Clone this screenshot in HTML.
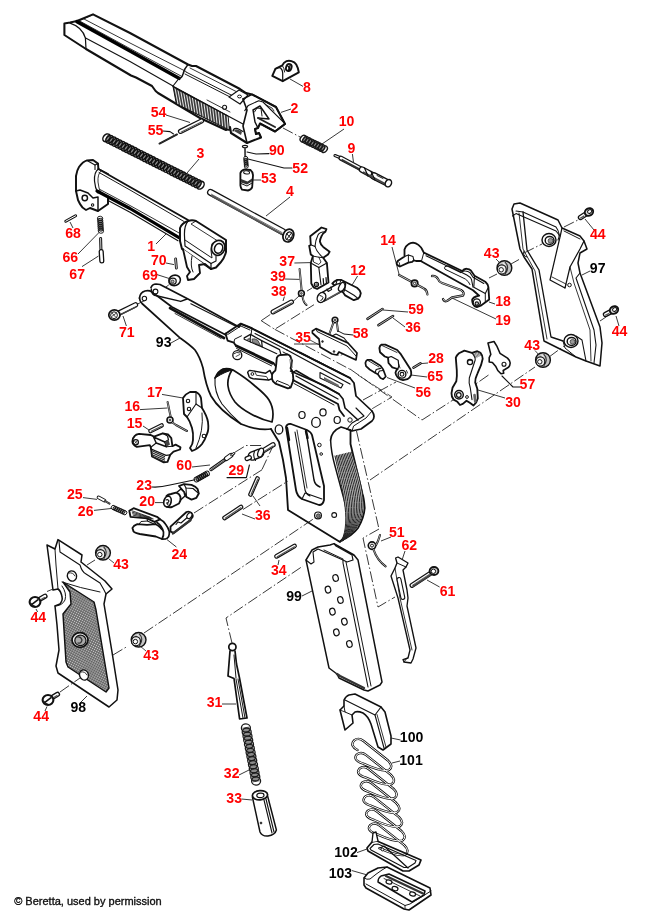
<!DOCTYPE html>
<html><head><meta charset="utf-8"><title>Beretta schematic</title>
<style>
html,body{margin:0;padding:0;background:#fff;}
body{width:650px;height:916px;overflow:hidden;}
svg{display:block;font-family:"Liberation Sans",Arial,sans-serif;}
</style></head><body>
<svg width="650" height="916" viewBox="0 0 650 916">
<rect width="650" height="916" fill="#fff"/>
<path d="M144.0 633.0 L260.0 555.0 L317.0 516.5" fill="none" stroke="#222" stroke-width="0.9" stroke-dasharray="11 2.5 1.5 2.5"/>
<path d="M232.0 643.0 L226.0 618.0 L260.0 595.0 L303.0 566.0" fill="none" stroke="#222" stroke-width="0.9" stroke-dasharray="11 2.5 1.5 2.5"/>
<path d="M194.0 513.0 L262.0 469.8" fill="none" stroke="#222" stroke-width="0.9" stroke-dasharray="11 2.5 1.5 2.5"/>
<path d="M262.0 469.5 L272.5 447.0" fill="none" stroke="#222" stroke-width="0.9" stroke-dasharray="11 2.5 1.5 2.5"/>
<path d="M234.5 452.5 L246.0 445.5 L262.0 445.5" fill="none" stroke="#222" stroke-width="0.9" stroke-dasharray="11 2.5 1.5 2.5"/>
<path d="M243.0 509.5 L288.0 481.0" fill="none" stroke="#222" stroke-width="0.9" stroke-dasharray="11 2.5 1.5 2.5"/>
<path d="M370.0 480.0 L535.0 367.0" fill="none" stroke="#222" stroke-width="0.9" stroke-dasharray="11 2.5 1.5 2.5"/>
<path d="M350.0 369.0 L422.0 420.0 L450.0 402.0 L490.0 374.0" fill="none" stroke="#222" stroke-width="0.9" stroke-dasharray="11 2.5 1.5 2.5"/>
<path d="M363.0 400.0 L396.0 382.0" fill="none" stroke="#222" stroke-width="0.9" stroke-dasharray="11 2.5 1.5 2.5"/>
<path d="M358.0 375.0 L392.0 397.0 L370.0 410.0" fill="none" stroke="#222" stroke-width="0.8" stroke-dasharray="11 2.5 1.5 2.5"/>
<path d="M261.2 320.7 L273.5 312.3" fill="none" stroke="#222" stroke-width="0.9" stroke-dasharray="11 2.5 1.5 2.5"/>
<path d="M293.0 301.5 L299.0 296.0 L312.0 288.0" fill="none" stroke="#222" stroke-width="0.9" stroke-dasharray="11 2.5 1.5 2.5"/>
<path d="M261.2 320.7 L274.7 329.3 L314.0 304.7" fill="none" stroke="#222" stroke-width="0.9" stroke-dasharray="11 2.5 1.5 2.5"/>
<path d="M274.7 329.3 L350.0 369.3" fill="none" stroke="#222" stroke-width="0.9" stroke-dasharray="11 2.5 1.5 2.5"/>
<path d="M300.0 352.0 L345.0 375.0" fill="none" stroke="#222" stroke-width="0.8" stroke-dasharray="11 2.5 1.5 2.5"/>
<path d="M310.0 340.0 L340.0 356.0 L348.0 350.0" fill="none" stroke="#222" stroke-width="0.8" stroke-dasharray="11 2.5 1.5 2.5"/>
<path d="M356.5 431.0 L379.0 529.0" fill="none" stroke="#222" stroke-width="0.9" stroke-dasharray="11 2.5 1.5 2.5"/>
<path d="M64.4 23.6 L70.0 22.6 L77.0 21.0 L93.0 14.4 L130.0 33.0 L188.0 64.5 L192.0 66.0 L196.0 66.0 L240.0 89.0 L246.0 93.0 L252.0 94.4 L276.0 107.0 L285.0 124.0 L275.0 131.5 L260.0 123.5 L258.0 128.0 L255.0 129.0 L256.0 134.0 L259.0 133.0 L261.0 137.5 L247.0 143.0 L231.0 133.0 L230.0 127.0 L226.0 130.0 L200.0 118.0 L176.4 104.0 L158.0 93.0 L155.6 91.0 L152.0 86.0 L136.0 77.5 L131.0 75.5 L86.0 49.0 L64.4 35.0 Z" fill="#fff" stroke="#111" stroke-width="2.07" stroke-linejoin="round" stroke-linecap="round" />
<path d="M70 23.2 Q82 27 85.4 38 L86 49" fill="none" stroke="#111" stroke-width="1.22" stroke-linejoin="round" stroke-linecap="round" />
<path d="M77 21.2 Q80 20.6 93 14.6" fill="none" stroke="#111" stroke-width="0.98" stroke-linejoin="round" stroke-linecap="round" />
<path d="M77.0 21.6 L130.0 51.0 L179.0 78.3" fill="none" stroke="#000" stroke-width="3.54" stroke-linejoin="round" stroke-linecap="round" />
<path d="M80.0 21.2 L130.0 48.6 L181.0 76.0" fill="none" stroke="#111" stroke-width="0.85" stroke-linejoin="round" stroke-linecap="round" />
<path d="M84.0 19.0 L130.0 43.0 L186.0 71.5" fill="none" stroke="#111" stroke-width="0.85" stroke-linejoin="round" stroke-linecap="round" />
<path d="M85.6 38.0 L130.0 61.5 L173.0 86.0" fill="none" stroke="#111" stroke-width="1.1" stroke-linejoin="round" stroke-linecap="round" />
<path d="M179 78.3 Q182 78 183 74 Q184 69 188 64.5" fill="none" stroke="#111" stroke-width="1.46" stroke-linejoin="round" stroke-linecap="round" />
<path d="M173 86 L179 78.3" fill="none" stroke="#111" stroke-width="1.1" stroke-linejoin="round" stroke-linecap="round" />
<path d="M186.0 72.0 L236.0 97.5" fill="none" stroke="#111" stroke-width="0.98" stroke-linejoin="round" stroke-linecap="round" />
<path d="M185.0 74.0 L235.0 99.5" fill="none" stroke="#111" stroke-width="0.98" stroke-linejoin="round" stroke-linecap="round" />
<path d="M190.0 68.0 L243.0 95.0" fill="none" stroke="#111" stroke-width="0.85" stroke-linejoin="round" stroke-linecap="round" />
<path d="M173 86.4 L228 116 L229.4 130.2 L176.4 104 Z" fill="#3a3a3a" stroke="#111" stroke-width="1"/>
<line x1="175.0" y1="88.2" x2="178.0" y2="104.1" stroke="#e8e8e8" stroke-width="1.0"/>
<line x1="177.9" y1="89.7" x2="180.8" y2="105.5" stroke="#e8e8e8" stroke-width="1.0"/>
<line x1="180.8" y1="91.3" x2="183.6" y2="106.8" stroke="#e8e8e8" stroke-width="1.0"/>
<line x1="183.7" y1="92.9" x2="186.4" y2="108.2" stroke="#e8e8e8" stroke-width="1.0"/>
<line x1="186.6" y1="94.4" x2="189.2" y2="109.6" stroke="#e8e8e8" stroke-width="1.0"/>
<line x1="189.5" y1="96.0" x2="191.9" y2="111.0" stroke="#e8e8e8" stroke-width="1.0"/>
<line x1="192.4" y1="97.5" x2="194.7" y2="112.4" stroke="#e8e8e8" stroke-width="1.0"/>
<line x1="195.3" y1="99.1" x2="197.5" y2="113.7" stroke="#e8e8e8" stroke-width="1.0"/>
<line x1="198.2" y1="100.6" x2="200.3" y2="115.1" stroke="#e8e8e8" stroke-width="1.0"/>
<line x1="201.1" y1="102.2" x2="203.1" y2="116.5" stroke="#e8e8e8" stroke-width="1.0"/>
<line x1="204.0" y1="103.8" x2="205.9" y2="117.9" stroke="#e8e8e8" stroke-width="1.0"/>
<line x1="206.9" y1="105.3" x2="208.7" y2="119.3" stroke="#e8e8e8" stroke-width="1.0"/>
<line x1="209.8" y1="106.9" x2="211.5" y2="120.6" stroke="#e8e8e8" stroke-width="1.0"/>
<line x1="212.7" y1="108.4" x2="214.3" y2="122.0" stroke="#e8e8e8" stroke-width="1.0"/>
<line x1="215.6" y1="110.0" x2="217.0" y2="123.4" stroke="#e8e8e8" stroke-width="1.0"/>
<line x1="218.5" y1="111.5" x2="219.8" y2="124.8" stroke="#e8e8e8" stroke-width="1.0"/>
<line x1="221.4" y1="113.1" x2="222.6" y2="126.2" stroke="#e8e8e8" stroke-width="1.0"/>
<line x1="224.3" y1="114.7" x2="225.4" y2="127.5" stroke="#e8e8e8" stroke-width="1.0"/>
<line x1="227.2" y1="116.2" x2="228.2" y2="128.9" stroke="#e8e8e8" stroke-width="1.0"/>
<path d="M173.0 86.4 L228.0 116.0 L243.0 124.0" fill="none" stroke="#111" stroke-width="1.22" stroke-linejoin="round" stroke-linecap="round" />
<path d="M176.0 88.8 L201.0 102.0" fill="none" stroke="#111" stroke-width="0.85" stroke-linejoin="round" stroke-linecap="round" />
<path d="M207.0 100.0 L230.0 112.0" fill="none" stroke="#111" stroke-width="0.85" stroke-linejoin="round" stroke-linecap="round" />
<circle cx="224.6" cy="107.2" r="2.0" fill="#fff" stroke="#111" stroke-width="1.1"/>
<path d="M229.0 97.0 L239.0 90.0 L248.0 95.0 L240.0 104.0 Z" fill="#fff" stroke="#111" stroke-width="1.22" stroke-linejoin="round" stroke-linecap="round" />
<ellipse cx="239.5" cy="96.5" rx="2.0" ry="1.4" fill="#fff" stroke="#111" stroke-width="0.98" transform="rotate(0 239.5 96.5)"/>
<path d="M243.0 99.0 L252.0 94.4 L276.0 107.0 L285.0 124.0 L275.0 131.5 L260.0 123.5" fill="none" stroke="#111" stroke-width="1.59" stroke-linejoin="round" stroke-linecap="round" />
<path d="M243.0 99.0 L247.0 110.0 L243.0 126.0 L247.0 143.0" fill="none" stroke="#111" stroke-width="1.59" stroke-linejoin="round" stroke-linecap="round" />
<path d="M261.0 137.5 L259.0 133.0 L256.0 134.0 L255.0 129.0 L258.0 128.0 L255.0 122.0 L253.0 110.0 L260.0 106.0 L269.0 119.0 L258.0 118.0" fill="none" stroke="#111" stroke-width="1.46" stroke-linejoin="round" stroke-linecap="round" />
<path d="M244.8 110.6 L248.3 105.4 L258.7 100.8 L263.0 102.0 L285.2 123.8" fill="none" stroke="#111" stroke-width="1.1" stroke-linejoin="round" stroke-linecap="round" />
<path d="M254.5 112 L257 108 L261 108.5 L262 116" fill="none" stroke="#111" stroke-width="0.98" stroke-linejoin="round" stroke-linecap="round" />
<path d="M258.0 118.0 L275.0 127.0" fill="none" stroke="#222" stroke-width="1.95" stroke-linejoin="round" stroke-linecap="round" />
<path d="M260.0 123.5 L275.0 131.5" fill="none" stroke="#111" stroke-width="1.22" stroke-linejoin="round" stroke-linecap="round" />
<path d="M266.0 105.0 L272.0 108.0 L274.0 111.0" fill="none" stroke="#111" stroke-width="0.85" stroke-linejoin="round" stroke-linecap="round" />
<path d="M233 131 Q234 127.5 237.5 128.5 L243 131.5" fill="none" stroke="#111" stroke-width="1.22" stroke-linejoin="round" stroke-linecap="round" />
<path d="M234 131 Q235 128.5 238 129.5 L242 131.8 L241 135 Z" fill="#444"/>
<path d="M226.0 130.0 L229.4 130.2" fill="none" stroke="#111" stroke-width="0.98" stroke-linejoin="round" stroke-linecap="round" />
<path d="M272.3 75.8 L275.4 68.8 L282.3 65.4 Q283.5 62.5 286.5 61.2 Q290 60 294.2 62.3 Q297 64.5 297.8 68 L298.8 72.3 L282.7 81.2 Z" fill="#fff" stroke="#111" stroke-width="1.95" stroke-linejoin="round" stroke-linecap="round" />
<path d="M275.4 68.8 Q279 67 280.8 68.2 Q282.7 70 282.7 73 L282.7 81.2" fill="none" stroke="#111" stroke-width="1.22" stroke-linejoin="round" stroke-linecap="round" />
<path d="M282.3 65.4 Q284.5 68.5 284.6 72" fill="none" stroke="#111" stroke-width="0.98" stroke-linejoin="round" stroke-linecap="round" />
<ellipse cx="288.8" cy="67.4" rx="2.7" ry="3.6" fill="#fff" stroke="#111" stroke-width="1.83" transform="rotate(20 288.8 67.4)"/>
<path d="M287.2 65.6 Q289.6 66.4 288.6 69.8 M290 65 L289.4 70" fill="none" stroke="#111" stroke-width="1.22" stroke-linejoin="round" stroke-linecap="round" />
<line x1="290.0" y1="79.0" x2="303.0" y2="86.4" stroke="#222" stroke-width="0.9"/>
<line x1="281.0" y1="112.4" x2="291.0" y2="109.0" stroke="#222" stroke-width="0.9"/>
<path d="M283.0 128.0 L301.0 137.5" fill="none" stroke="#222" stroke-width="0.9" stroke-dasharray="11 2.5 1.5 2.5"/>
<line x1="180.5" y1="131.4" x2="201.5" y2="121.0" stroke="#111" stroke-width="5.2" stroke-linecap="round"/>
<line x1="180.5" y1="131.4" x2="201.5" y2="121.0" stroke="#fff" stroke-width="2.80" stroke-linecap="round"/>
<line x1="180.9" y1="132.2" x2="201.9" y2="121.8" stroke="#555" stroke-width="1.2"/>
<line x1="159.5" y1="143.6" x2="177.0" y2="134.4" stroke="#111" stroke-width="1.9" stroke-linecap="round"/>
<line x1="159.5" y1="143.6" x2="177.0" y2="134.4" stroke="#777" stroke-width="0.30" stroke-linecap="round"/>
<line x1="166.0" y1="115.0" x2="190.0" y2="122.5" stroke="#222" stroke-width="0.9"/>
<path d="M163.0 131.0 L170.0 131.6 L173.5 134.0" fill="none" stroke="#111" stroke-width="1.1" stroke-linejoin="round" stroke-linecap="round" />
<line x1="106.1" y1="137.5" x2="200.9" y2="185.5" stroke="#8a8a8a" stroke-width="6.7"/>
<ellipse cx="106.5" cy="137.8" rx="3.15" ry="4.30" fill="none" stroke="#111" stroke-width="1.5" transform="rotate(38.8 106.5 137.8)"/>
<ellipse cx="109.5" cy="139.3" rx="3.15" ry="4.30" fill="none" stroke="#111" stroke-width="1.5" transform="rotate(38.8 109.5 139.3)"/>
<ellipse cx="112.6" cy="140.8" rx="3.15" ry="4.30" fill="none" stroke="#111" stroke-width="1.5" transform="rotate(38.8 112.6 140.8)"/>
<ellipse cx="115.6" cy="142.4" rx="3.15" ry="4.30" fill="none" stroke="#111" stroke-width="1.5" transform="rotate(38.8 115.6 142.4)"/>
<ellipse cx="118.6" cy="143.9" rx="3.15" ry="4.30" fill="none" stroke="#111" stroke-width="1.5" transform="rotate(38.8 118.6 143.9)"/>
<ellipse cx="121.7" cy="145.4" rx="3.15" ry="4.30" fill="none" stroke="#111" stroke-width="1.5" transform="rotate(38.8 121.7 145.4)"/>
<ellipse cx="124.7" cy="147.0" rx="3.15" ry="4.30" fill="none" stroke="#111" stroke-width="1.5" transform="rotate(38.8 124.7 147.0)"/>
<ellipse cx="127.7" cy="148.5" rx="3.15" ry="4.30" fill="none" stroke="#111" stroke-width="1.5" transform="rotate(38.8 127.7 148.5)"/>
<ellipse cx="130.8" cy="150.0" rx="3.15" ry="4.30" fill="none" stroke="#111" stroke-width="1.5" transform="rotate(38.8 130.8 150.0)"/>
<ellipse cx="133.8" cy="151.5" rx="3.15" ry="4.30" fill="none" stroke="#111" stroke-width="1.5" transform="rotate(38.8 133.8 151.5)"/>
<ellipse cx="136.8" cy="153.1" rx="3.15" ry="4.30" fill="none" stroke="#111" stroke-width="1.5" transform="rotate(38.8 136.8 153.1)"/>
<ellipse cx="139.9" cy="154.6" rx="3.15" ry="4.30" fill="none" stroke="#111" stroke-width="1.5" transform="rotate(38.8 139.9 154.6)"/>
<ellipse cx="142.9" cy="156.1" rx="3.15" ry="4.30" fill="none" stroke="#111" stroke-width="1.5" transform="rotate(38.8 142.9 156.1)"/>
<ellipse cx="145.9" cy="157.7" rx="3.15" ry="4.30" fill="none" stroke="#111" stroke-width="1.5" transform="rotate(38.8 145.9 157.7)"/>
<ellipse cx="149.0" cy="159.2" rx="3.15" ry="4.30" fill="none" stroke="#111" stroke-width="1.5" transform="rotate(38.8 149.0 159.2)"/>
<ellipse cx="152.0" cy="160.7" rx="3.15" ry="4.30" fill="none" stroke="#111" stroke-width="1.5" transform="rotate(38.8 152.0 160.7)"/>
<ellipse cx="155.0" cy="162.3" rx="3.15" ry="4.30" fill="none" stroke="#111" stroke-width="1.5" transform="rotate(38.8 155.0 162.3)"/>
<ellipse cx="158.0" cy="163.8" rx="3.15" ry="4.30" fill="none" stroke="#111" stroke-width="1.5" transform="rotate(38.8 158.0 163.8)"/>
<ellipse cx="161.1" cy="165.3" rx="3.15" ry="4.30" fill="none" stroke="#111" stroke-width="1.5" transform="rotate(38.8 161.1 165.3)"/>
<ellipse cx="164.1" cy="166.9" rx="3.15" ry="4.30" fill="none" stroke="#111" stroke-width="1.5" transform="rotate(38.8 164.1 166.9)"/>
<ellipse cx="167.1" cy="168.4" rx="3.15" ry="4.30" fill="none" stroke="#111" stroke-width="1.5" transform="rotate(38.8 167.1 168.4)"/>
<ellipse cx="170.2" cy="169.9" rx="3.15" ry="4.30" fill="none" stroke="#111" stroke-width="1.5" transform="rotate(38.8 170.2 169.9)"/>
<ellipse cx="173.2" cy="171.5" rx="3.15" ry="4.30" fill="none" stroke="#111" stroke-width="1.5" transform="rotate(38.8 173.2 171.5)"/>
<ellipse cx="176.2" cy="173.0" rx="3.15" ry="4.30" fill="none" stroke="#111" stroke-width="1.5" transform="rotate(38.8 176.2 173.0)"/>
<ellipse cx="179.3" cy="174.5" rx="3.15" ry="4.30" fill="none" stroke="#111" stroke-width="1.5" transform="rotate(38.8 179.3 174.5)"/>
<ellipse cx="182.3" cy="176.0" rx="3.15" ry="4.30" fill="none" stroke="#111" stroke-width="1.5" transform="rotate(38.8 182.3 176.0)"/>
<ellipse cx="185.3" cy="177.6" rx="3.15" ry="4.30" fill="none" stroke="#111" stroke-width="1.5" transform="rotate(38.8 185.3 177.6)"/>
<ellipse cx="188.4" cy="179.1" rx="3.15" ry="4.30" fill="none" stroke="#111" stroke-width="1.5" transform="rotate(38.8 188.4 179.1)"/>
<ellipse cx="191.4" cy="180.6" rx="3.15" ry="4.30" fill="none" stroke="#111" stroke-width="1.5" transform="rotate(38.8 191.4 180.6)"/>
<ellipse cx="194.4" cy="182.2" rx="3.15" ry="4.30" fill="none" stroke="#111" stroke-width="1.5" transform="rotate(38.8 194.4 182.2)"/>
<ellipse cx="197.5" cy="183.7" rx="3.15" ry="4.30" fill="none" stroke="#111" stroke-width="1.5" transform="rotate(38.8 197.5 183.7)"/>
<ellipse cx="200.5" cy="185.2" rx="3.15" ry="4.30" fill="none" stroke="#111" stroke-width="1.5" transform="rotate(38.8 200.5 185.2)"/>
<line x1="199.0" y1="159.0" x2="187.0" y2="173.0" stroke="#222" stroke-width="0.9"/>
<line x1="303.1" y1="138.5" x2="324.4" y2="149.3" stroke="#8a8a8a" stroke-width="5.6"/>
<ellipse cx="303.3" cy="138.7" rx="2.79" ry="3.60" fill="none" stroke="#1a1a1a" stroke-width="1.4" transform="rotate(38.7 303.3 138.7)"/>
<ellipse cx="305.9" cy="140.0" rx="2.79" ry="3.60" fill="none" stroke="#1a1a1a" stroke-width="1.4" transform="rotate(38.7 305.9 140.0)"/>
<ellipse cx="308.5" cy="141.3" rx="2.79" ry="3.60" fill="none" stroke="#1a1a1a" stroke-width="1.4" transform="rotate(38.7 308.5 141.3)"/>
<ellipse cx="311.1" cy="142.6" rx="2.79" ry="3.60" fill="none" stroke="#1a1a1a" stroke-width="1.4" transform="rotate(38.7 311.1 142.6)"/>
<ellipse cx="313.8" cy="143.9" rx="2.79" ry="3.60" fill="none" stroke="#1a1a1a" stroke-width="1.4" transform="rotate(38.7 313.8 143.9)"/>
<ellipse cx="316.4" cy="145.2" rx="2.79" ry="3.60" fill="none" stroke="#1a1a1a" stroke-width="1.4" transform="rotate(38.7 316.4 145.2)"/>
<ellipse cx="319.0" cy="146.5" rx="2.79" ry="3.60" fill="none" stroke="#1a1a1a" stroke-width="1.4" transform="rotate(38.7 319.0 146.5)"/>
<ellipse cx="321.6" cy="147.8" rx="2.79" ry="3.60" fill="none" stroke="#1a1a1a" stroke-width="1.4" transform="rotate(38.7 321.6 147.8)"/>
<ellipse cx="324.2" cy="149.1" rx="2.79" ry="3.60" fill="none" stroke="#1a1a1a" stroke-width="1.4" transform="rotate(38.7 324.2 149.1)"/>
<line x1="344.0" y1="129.0" x2="322.0" y2="144.0" stroke="#222" stroke-width="0.9"/>
<line x1="335.0" y1="155.6" x2="341.0" y2="158.0" stroke="#111" stroke-width="3.2" stroke-linecap="round"/>
<line x1="335.0" y1="155.6" x2="341.0" y2="158.0" stroke="#fff" stroke-width="1.00" stroke-linecap="round"/>
<line x1="341.0" y1="158.2" x2="362.0" y2="169.4" stroke="#111" stroke-width="5.0" stroke-linecap="round"/>
<line x1="341.0" y1="158.2" x2="362.0" y2="169.4" stroke="#fff" stroke-width="2.60" stroke-linecap="round"/>
<line x1="341.5" y1="159.6" x2="362.0" y2="170.6" stroke="#333" stroke-width="1.8"/>
<line x1="362.0" y1="169.6" x2="374.0" y2="176.0" stroke="#111" stroke-width="6.6" stroke-linecap="round"/>
<line x1="362.0" y1="169.6" x2="374.0" y2="176.0" stroke="#fff" stroke-width="4.00" stroke-linecap="round"/>
<line x1="374.0" y1="176.0" x2="387.0" y2="182.6" stroke="#111" stroke-width="7.6" stroke-linecap="round"/>
<line x1="374.0" y1="176.0" x2="387.0" y2="182.6" stroke="#fff" stroke-width="4.80" stroke-linecap="round"/>
<line x1="363.0" y1="172.0" x2="386.0" y2="184.4" stroke="#444" stroke-width="1.8"/>
<path d="M364.5 168 L368 176 M371 171.5 L375 180" fill="none" stroke="#111" stroke-width="1.22" stroke-linejoin="round" stroke-linecap="round" />
<path d="M377 175.5 L383 178.5" fill="none" stroke="#111" stroke-width="0.98" stroke-linejoin="round" stroke-linecap="round" />
<ellipse cx="388.4" cy="183.2" rx="3.0" ry="3.8" fill="#fff" stroke="#111" stroke-width="1.46" transform="rotate(25 388.4 183.2)"/>
<line x1="352.4" y1="154.0" x2="353.6" y2="163.0" stroke="#222" stroke-width="0.9"/>
<ellipse cx="245.0" cy="146.6" rx="2.6" ry="1.2" fill="#fff" stroke="#111" stroke-width="1.1" transform="rotate(0 245.0 146.6)"/>
<line x1="245.0" y1="148.0" x2="245.2" y2="156.0" stroke="#111" stroke-width="1.8" stroke-linecap="round"/>
<line x1="245.0" y1="148.0" x2="245.2" y2="156.0" stroke="#fff" stroke-width="0.40" stroke-linecap="round"/>
<line x1="245.7" y1="158.7" x2="246.3" y2="165.8" stroke="#8a8a8a" stroke-width="3.1"/>
<ellipse cx="245.7" cy="158.4" rx="2.13" ry="2.00" fill="none" stroke="#111" stroke-width="0.9" transform="rotate(97.2 245.7 158.4)"/>
<ellipse cx="245.8" cy="160.3" rx="2.13" ry="2.00" fill="none" stroke="#111" stroke-width="0.9" transform="rotate(97.2 245.8 160.3)"/>
<ellipse cx="246.0" cy="162.2" rx="2.13" ry="2.00" fill="none" stroke="#111" stroke-width="0.9" transform="rotate(97.2 246.0 162.2)"/>
<ellipse cx="246.2" cy="164.2" rx="2.13" ry="2.00" fill="none" stroke="#111" stroke-width="0.9" transform="rotate(97.2 246.2 164.2)"/>
<ellipse cx="246.3" cy="166.1" rx="2.13" ry="2.00" fill="none" stroke="#111" stroke-width="0.9" transform="rotate(97.2 246.3 166.1)"/>
<path d="M240.4 173 Q241 170.5 244.6 169.3 L250.5 170 Q252.6 171.5 253 175.2 L252.2 187 Q251.5 189.6 248 190.5 L242 189.6 Q240.6 188 240.4 185.4 Z" fill="#fff" stroke="#111" stroke-width="1.83" stroke-linejoin="round" stroke-linecap="round" />
<ellipse cx="246.6" cy="172.4" rx="3.0" ry="1.6" fill="#fff" stroke="#111" stroke-width="0.98" transform="rotate(8 246.6 172.4)"/>
<path d="M241 179 L247.5 181.5 L252 178.5 L252 181.5 L247 184.5 L241 182.5 Z" fill="#333"/>
<path d="M241 183.5 L247 186 L252 183" fill="none" stroke="#111" stroke-width="0.98" stroke-linejoin="round" stroke-linecap="round" />
<path d="M247.0 152.0 L256.0 154.0 L269.0 153.6" fill="none" stroke="#111" stroke-width="1.1" stroke-linejoin="round" stroke-linecap="round" />
<path d="M248.0 159.0 L284.0 168.0 L292.0 168.0" fill="none" stroke="#111" stroke-width="1.1" stroke-linejoin="round" stroke-linecap="round" />
<line x1="253.0" y1="180.0" x2="261.0" y2="180.0" stroke="#222" stroke-width="0.9"/>
<line x1="210.5" y1="192.4" x2="283.0" y2="231.8" stroke="#111" stroke-width="7.0" stroke-linecap="round"/>
<line x1="210.5" y1="192.4" x2="283.0" y2="231.8" stroke="#fff" stroke-width="4.40" stroke-linecap="round"/>
<line x1="211.5" y1="195.6" x2="282.0" y2="234.2" stroke="#555" stroke-width="1.8"/>
<line x1="211.0" y1="194.0" x2="282.5" y2="232.8" stroke="#333" stroke-width="0.7"/>
<ellipse cx="288.4" cy="235.6" rx="5.2" ry="6.6" fill="#fff" stroke="#111" stroke-width="1.71" transform="rotate(25 288.4 235.6)"/>
<ellipse cx="289.0" cy="236.0" rx="3.0" ry="4.2" fill="#fff" stroke="#111" stroke-width="1.1" transform="rotate(25 289.0 236.0)"/>
<path d="M286.5 233.5 L291 238.5 M291.5 233 L287 239" fill="none" stroke="#111" stroke-width="0.98" stroke-linejoin="round" stroke-linecap="round" />
<line x1="290.0" y1="197.0" x2="266.0" y2="216.0" stroke="#222" stroke-width="0.9"/>
<path d="M76 191 L76 176 Q77 170 79 167 Q83 161.5 87 160.4 L93 160 L98 163.6 L98.4 169 L108 174 L108 198 L108 204 L98 211 L90 208 L86 210 Q82 208 80 204 L78 200 Z" fill="#fff" stroke="#111" stroke-width="1.95" stroke-linejoin="round" stroke-linecap="round" />
<path d="M87.0 160.6 L95.0 165.0 L98.4 163.6" fill="none" stroke="#111" stroke-width="1.1" stroke-linejoin="round" stroke-linecap="round" />
<path d="M95.0 165.0 L95.0 169.5" fill="none" stroke="#111" stroke-width="1.1" stroke-linejoin="round" stroke-linecap="round" />
<path d="M76 191 L80 190 L88 193 L93 198 L98 197 L98 211" fill="none" stroke="#111" stroke-width="1.46" stroke-linejoin="round" stroke-linecap="round" />
<circle cx="84.8" cy="198.0" r="2.7" fill="#fff" stroke="#111" stroke-width="1.46"/>
<circle cx="92.6" cy="205.0" r="1.2" fill="#fff" stroke="#111" stroke-width="1.1"/>
<path d="M98.4 169.0 L130.0 187.0 L188.0 220.0 L180.0 239.0 L130.0 209.0 L97.0 191.0 Z" fill="#fff" stroke="#fff" stroke-width="0.12" stroke-linejoin="round" stroke-linecap="round" />
<path d="M98.4 169 Q94 172 94.5 181 Q95 188 98 193" fill="none" stroke="#111" stroke-width="1.22" stroke-linejoin="round" stroke-linecap="round" />
<path d="M101 171 Q97.5 174 98 182 Q98.5 188 101 193.5" fill="none" stroke="#111" stroke-width="0.85" stroke-linejoin="round" stroke-linecap="round" />
<path d="M98.4 169.0 L130.0 187.0 L188.0 220.0" fill="none" stroke="#111" stroke-width="1.95" stroke-linejoin="round" stroke-linecap="round" />
<path d="M99.0 172.5 L130.0 190.0 L184.0 221.5" fill="none" stroke="#111" stroke-width="0.98" stroke-linejoin="round" stroke-linecap="round" />
<path d="M97.0 191.0 L130.0 208.5 L179.0 237.6" fill="none" stroke="#000" stroke-width="3.17" stroke-linejoin="round" stroke-linecap="round" />
<path d="M100.0 189.5 L130.0 205.5 L180.0 233.5" fill="none" stroke="#111" stroke-width="0.85" stroke-linejoin="round" stroke-linecap="round" />
<path d="M108.0 200.5 L130.0 212.3 L178.0 240.8" fill="none" stroke="#111" stroke-width="1.1" stroke-linejoin="round" stroke-linecap="round" />
<path d="M180 228 Q182 223 188 221 Q192 219.5 196 221 L226 240 L226 252 Q224 259 221 262 L216 267.5 L211 269 L182 249 L180 241 Z" fill="#fff" stroke="#111" stroke-width="1.95" stroke-linejoin="round" stroke-linecap="round" />
<path d="M188 221 Q184 226 184.5 236 L185 246 L211 263.5 L211 269" fill="none" stroke="#111" stroke-width="1.22" stroke-linejoin="round" stroke-linecap="round" />
<path d="M185 240 L212 258 Q210 250 212 244" fill="none" stroke="#111" stroke-width="0.98" stroke-linejoin="round" stroke-linecap="round" />
<path d="M196.0 221.0 L191.0 224.0 L221.0 243.0" fill="none" stroke="#111" stroke-width="0.85" stroke-linejoin="round" stroke-linecap="round" />
<ellipse cx="218.2" cy="247.8" rx="6.6" ry="7.6" fill="#fff" stroke="#111" stroke-width="1.71" transform="rotate(20 218.2 247.8)"/>
<ellipse cx="218.6" cy="248.4" rx="4.0" ry="5.0" fill="#fff" stroke="#111" stroke-width="1.59" transform="rotate(20 218.6 248.4)"/>
<path d="M211 263.5 L216 261 L216 256" fill="none" stroke="#111" stroke-width="1.1" stroke-linejoin="round" stroke-linecap="round" />
<path d="M183 249 L187 267 L190 272 L187 276 L188 280 L194 279 L200 273 L199 265 L205 264 L211 269" fill="#fff" stroke="#111" stroke-width="1.83" stroke-linejoin="round" stroke-linecap="round" />
<path d="M192 256 Q190 266 193 272" fill="none" stroke="#111" stroke-width="0.98" stroke-linejoin="round" stroke-linecap="round" />
<line x1="156.0" y1="244.0" x2="166.0" y2="234.0" stroke="#222" stroke-width="0.9"/>
<line x1="65.8" y1="221.2" x2="75.6" y2="215.8" stroke="#111" stroke-width="3.0" stroke-linecap="round"/>
<line x1="65.8" y1="221.2" x2="75.6" y2="215.8" stroke="#fff" stroke-width="1.00" stroke-linecap="round"/>
<line x1="70.0" y1="222.0" x2="73.0" y2="228.0" stroke="#222" stroke-width="0.9"/>
<line x1="100.1" y1="218.7" x2="100.9" y2="230.8" stroke="#8a8a8a" stroke-width="4.2"/>
<ellipse cx="100.1" cy="218.5" rx="2.26" ry="2.70" fill="none" stroke="#111" stroke-width="0.9" transform="rotate(98.1 100.1 218.5)"/>
<ellipse cx="100.2" cy="220.6" rx="2.26" ry="2.70" fill="none" stroke="#111" stroke-width="0.9" transform="rotate(98.1 100.2 220.6)"/>
<ellipse cx="100.4" cy="222.7" rx="2.26" ry="2.70" fill="none" stroke="#111" stroke-width="0.9" transform="rotate(98.1 100.4 222.7)"/>
<ellipse cx="100.5" cy="224.8" rx="2.26" ry="2.70" fill="none" stroke="#111" stroke-width="0.9" transform="rotate(98.1 100.5 224.8)"/>
<ellipse cx="100.6" cy="226.8" rx="2.26" ry="2.70" fill="none" stroke="#111" stroke-width="0.9" transform="rotate(98.1 100.6 226.8)"/>
<ellipse cx="100.8" cy="228.9" rx="2.26" ry="2.70" fill="none" stroke="#111" stroke-width="0.9" transform="rotate(98.1 100.8 228.9)"/>
<ellipse cx="100.9" cy="231.0" rx="2.26" ry="2.70" fill="none" stroke="#111" stroke-width="0.9" transform="rotate(98.1 100.9 231.0)"/>
<line x1="78.0" y1="254.0" x2="99.0" y2="232.5" stroke="#222" stroke-width="0.9"/>
<line x1="100.6" y1="238.4" x2="100.9" y2="249.0" stroke="#111" stroke-width="3.0" stroke-linecap="round"/>
<line x1="100.6" y1="238.4" x2="100.9" y2="249.0" stroke="#fff" stroke-width="0.80" stroke-linecap="round"/>
<line x1="101.2" y1="251.5" x2="101.8" y2="261.0" stroke="#111" stroke-width="5.2" stroke-linecap="round"/>
<line x1="101.2" y1="251.5" x2="101.8" y2="261.0" stroke="#fff" stroke-width="2.60" stroke-linecap="round"/>
<line x1="82.0" y1="266.6" x2="98.5" y2="256.0" stroke="#222" stroke-width="0.9"/>
<line x1="175.6" y1="258.8" x2="176.4" y2="268.2" stroke="#111" stroke-width="2.8" stroke-linecap="round"/>
<line x1="175.6" y1="258.8" x2="176.4" y2="268.2" stroke="#fff" stroke-width="0.80" stroke-linecap="round"/>
<line x1="166.0" y1="263.0" x2="174.0" y2="264.6" stroke="#222" stroke-width="0.9"/>
<ellipse cx="174.6" cy="280.4" rx="5.9" ry="5.2" fill="#fff" stroke="#111" stroke-width="1.59" transform="rotate(-20 174.6 280.4)"/>
<ellipse cx="172.9" cy="281.2" rx="3.3" ry="3.0" fill="#eee" stroke="#111" stroke-width="1.22" transform="rotate(0 172.9 281.2)"/>
<circle cx="172.6" cy="281.5" r="1.4" fill="#bbb" stroke="#111" stroke-width="0.73"/>
<line x1="157.0" y1="274.6" x2="169.5" y2="278.6" stroke="#222" stroke-width="0.9"/>
<line x1="119.0" y1="313.0" x2="135.5" y2="304.8" stroke="#111" stroke-width="5.4" stroke-linecap="round"/>
<line x1="119.0" y1="313.0" x2="135.5" y2="304.8" stroke="#fff" stroke-width="3.00" stroke-linecap="round"/>
<line x1="120.0" y1="314.8" x2="136.0" y2="306.8" stroke="#444" stroke-width="1.5"/>
<ellipse cx="114.4" cy="315.0" rx="5.6" ry="5.2" fill="#fff" stroke="#111" stroke-width="1.71" transform="rotate(0 114.4 315.0)"/>
<circle cx="114.0" cy="315.2" r="3.4" fill="#fff" stroke="#111" stroke-width="0.98"/>
<line x1="112.0" y1="313.0" x2="116.0" y2="317.5" stroke="#222" stroke-width="0.8"/>
<line x1="116.5" y1="313.0" x2="111.5" y2="316.6" stroke="#222" stroke-width="0.8"/>
<line x1="123.0" y1="316.0" x2="126.4" y2="326.0" stroke="#222" stroke-width="0.9"/>
<path d="M137.5 304.0 L146.0 300.0" fill="none" stroke="#222" stroke-width="0.9" stroke-dasharray="11 2.5 1.5 2.5"/>
<path d="M160.0 291.5 L170.0 284.0" fill="none" stroke="#222" stroke-width="0.9" stroke-dasharray="11 2.5 1.5 2.5"/>
<path d="M151 287.5 Q152.5 284 156 284 L160 284.5 L188 299 L239 327 L241 324 L253 329 L350 378 L354 383 L356 396 L372 411 Q376 417 372 421 L361 429 L352 431 L347 429" fill="#fff" stroke="#111" stroke-width="1.71" stroke-linejoin="round" stroke-linecap="round" />
<path d="M139.5 298 Q140 292.5 145 291 Q149 290 152 292 L172 307 L226 335" fill="none" stroke="#111" stroke-width="1.71" stroke-linejoin="round" stroke-linecap="round" />
<circle cx="155.5" cy="291.5" r="2.4" fill="#fff" stroke="#111" stroke-width="1.1"/>
<circle cx="144.4" cy="298.5" r="2.2" fill="#fff" stroke="#111" stroke-width="1.1"/>
<path d="M151.3 289 Q151.5 294 154.5 295.2 L180.7 301.4 L187 299" fill="none" stroke="#111" stroke-width="1.46" stroke-linejoin="round" stroke-linecap="round" />
<path d="M190.8 303.8 L234.8 325.8" fill="none" stroke="#111" stroke-width="1.1" stroke-linejoin="round" stroke-linecap="round" />
<path d="M170.0 308.2 L224.0 338.0" fill="none" stroke="#111" stroke-width="2.68" stroke-linejoin="round" stroke-linecap="round" />
<path d="M175.0 313.5 L221.0 338.5" fill="none" stroke="#111" stroke-width="0.85" stroke-linejoin="round" stroke-linecap="round" />
<path d="M139.5 298 Q139.5 301 142 303.5 L180.5 338.3 Q190 345 195 350 Q200 357 203 368 Q206 386 211 396 Q219 410 241 424 Q258 431 271 429" fill="none" stroke="#111" stroke-width="1.71" stroke-linejoin="round" stroke-linecap="round" />
<path d="M225.5 333.7 L240.8 323.6 L251.9 328.2" fill="none" stroke="#111" stroke-width="1.83" stroke-linejoin="round" stroke-linecap="round" />
<path d="M225.5 333.7 L227.6 340.6 L233.9 342.7 L235.2 344.8 L273.3 362.8 L275.4 365.6" fill="none" stroke="#111" stroke-width="1.83" stroke-linejoin="round" stroke-linecap="round" />
<path d="M227.6 334.6 L240.8 326 L250 330" fill="none" stroke="#111" stroke-width="0.98" stroke-linejoin="round" stroke-linecap="round" />
<path d="M233.9 342.7 L234.6 339.2 L241.5 335.8" fill="none" stroke="#111" stroke-width="0.98" stroke-linejoin="round" stroke-linecap="round" />
<path d="M235.8 346.2 L272.6 364" fill="none" stroke="#111" stroke-width="1.59" stroke-linejoin="round" stroke-linecap="round" />
<path d="M236.6 348.5 L271.5 365.8" fill="none" stroke="#111" stroke-width="0.98" stroke-linejoin="round" stroke-linecap="round" />
<path d="M251.9 328.2 L251.2 334" fill="none" stroke="#111" stroke-width="0.98" stroke-linejoin="round" stroke-linecap="round" />
<path d="M244.2 337.9 L250.5 334.4 L261.6 340.6 L262.2 346.9 L250.5 342 L244.2 339.2 Z" fill="#fff" stroke="#111" stroke-width="1.22" stroke-linejoin="round" stroke-linecap="round" />
<path d="M250.5 334.4 L250.5 342" fill="none" stroke="#111" stroke-width="1.1" stroke-linejoin="round" stroke-linecap="round" />
<path d="M246.5 339.3 L250.5 337.2 L250.5 341.6 Z" fill="#666"/>
<path d="M252 339 Q255 338 258 340.5 L260.5 345.5 L252.5 342.4 Z" fill="#888" stroke="#222" stroke-width="0.7"/>
<path d="M261.6 340.6 L279.6 349.6 L281 355" fill="none" stroke="#111" stroke-width="1.22" stroke-linejoin="round" stroke-linecap="round" />
<path d="M262.2 346.9 L276.8 353.8" fill="none" stroke="#111" stroke-width="1.1" stroke-linejoin="round" stroke-linecap="round" />
<path d="M276.8 357.9 Q277.5 356 279.6 355.2 L287.9 354.5 Q289.8 355.2 290.6 357.2 L292 360.7 L290.6 368.3 L292.7 371.8 L293.4 380.1 L290.6 387.7 L287.9 388.4 L275.4 383.6 Q272.5 381.5 271.9 378.7 L271.9 374.6 Q273 372 275.4 370.4 L276.1 365.6 Z" fill="#fff" stroke="#111" stroke-width="1.83" stroke-linejoin="round" stroke-linecap="round" />
<path d="M291.3 358.5 L292.3 367.5 M289.9 359.5 L290.8 366.5" fill="none" stroke="#555" stroke-width="0.73" stroke-linejoin="round" stroke-linecap="round" />
<path d="M275.4 383.6 L277 380.5 L288.6 385.2 L290.6 387.7" fill="none" stroke="#111" stroke-width="0.98" stroke-linejoin="round" stroke-linecap="round" />
<circle cx="237.3" cy="355.2" r="4.5" fill="#fff" stroke="#111" stroke-width="1.34"/>
<path d="M234.2 353.6 Q236.5 351.6 239.6 352.8" fill="none" stroke="#111" stroke-width="0.85" stroke-linejoin="round" stroke-linecap="round" />
<path d="M236 356.5 L240 354.4" fill="none" stroke="#111" stroke-width="0.73" stroke-linejoin="round" stroke-linecap="round" />
<path d="M247.7 372.5 Q248 370.8 249.8 370.4 L254.6 371.1 L265.7 373.2 L269.9 370.4 L271.9 374.6 L271.9 378.7 L268.5 380.1 L253.2 378.7 Q249.8 378 249.1 376.6 Z" fill="#fff" stroke="#111" stroke-width="1.46" stroke-linejoin="round" stroke-linecap="round" />
<circle cx="252.4" cy="374.0" r="1.4" fill="#fff" stroke="#111" stroke-width="0.98"/>
<path d="M254.6 371.1 L256.5 375.3 L266.5 376.6 L268.5 380.1" fill="none" stroke="#111" stroke-width="0.85" stroke-linejoin="round" stroke-linecap="round" />
<path d="M215 378 Q218 371 223 369 Q228 368 233 370 Q246 378 255 386 Q266 395 269 400 Q275 410 272 422 Q262 420 251 414 Q240 408 235 402 Q229 394 228 386 Q227 378 232 370" fill="none" stroke="#111" stroke-width="1.71" stroke-linejoin="round" stroke-linecap="round" />
<path d="M215 378 Q218 371 223 369 Q228 368 233 370 Q226 371 215 378 Z" fill="#111" stroke="#111" stroke-width="1"/>
<path d="M215 378 Q214 392 222 404 Q230 414 241 424" fill="none" stroke="#111" stroke-width="1.1" stroke-linejoin="round" stroke-linecap="round" />
<path d="M253 329 L350 378" fill="none" stroke="#111" stroke-width="1.71" stroke-linejoin="round" stroke-linecap="round" />
<path d="M290.6 371.1 L325 386 L339 394 L343 399 L345 408 L358 420" fill="none" stroke="#111" stroke-width="1.59" stroke-linejoin="round" stroke-linecap="round" />
<path d="M292 373 L296 370.5 L309 378 L339 394" fill="none" stroke="#111" stroke-width="1.46" stroke-linejoin="round" stroke-linecap="round" />
<path d="M293 380 L338 404 L339.5 410 L344 416" fill="none" stroke="#111" stroke-width="1.83" stroke-linejoin="round" stroke-linecap="round" />
<path d="M296 376 L338 399" fill="none" stroke="#111" stroke-width="1.34" stroke-linejoin="round" stroke-linecap="round" />
<path d="M294 383.5 L334 405" fill="none" stroke="#111" stroke-width="0.98" stroke-linejoin="round" stroke-linecap="round" />
<path d="M287 350 L350 384" fill="none" stroke="#111" stroke-width="1.34" stroke-linejoin="round" stroke-linecap="round" />
<path d="M255 333.5 L287 350" fill="none" stroke="#111" stroke-width="1.1" stroke-linejoin="round" stroke-linecap="round" />
<path d="M283 352 L291 356" fill="none" stroke="#111" stroke-width="0.98" stroke-linejoin="round" stroke-linecap="round" />
<path d="M320 372.5 L343 384.5 L341 388 L320 378 Z" fill="#fff" stroke="#111" stroke-width="1.1" stroke-linejoin="round" stroke-linecap="round" />
<path d="M324 377 L339 385 L338 387 L324 380 Z" fill="#666"/>
<path d="M347 429 L352 423 L364 416 L356 408" fill="none" stroke="#111" stroke-width="1.1" stroke-linejoin="round" stroke-linecap="round" />
<path d="M352 431 L353.6 426 L366 418 L372 411" fill="none" stroke="#111" stroke-width="0.98" stroke-linejoin="round" stroke-linecap="round" />
<circle cx="350.0" cy="420.0" r="2.2" fill="#fff" stroke="#111" stroke-width="0.98"/>
<path d="M271 429 L279 442 L283 460 L286 478 L288 510 L340 542" fill="none" stroke="#111" stroke-width="1.83" stroke-linejoin="round" stroke-linecap="round" />
<path d="M340.5 541 Q352 536 358 528 Q364 518 364.7 508 Q364 498 362.5 494 L350.5 444 L350.5 430" fill="none" stroke="#111" stroke-width="1.83" stroke-linejoin="round" stroke-linecap="round" />
<path d="M330.6 440 Q331.5 431 341 427 L350.5 430" fill="none" stroke="#111" stroke-width="1.71" stroke-linejoin="round" stroke-linecap="round" />
<path d="M330.6 440 Q331 452 335 466 L344 499.4 Q347.7 515 347.7 525 Q347 535 340.5 541" fill="none" stroke="#111" stroke-width="1.46" stroke-linejoin="round" stroke-linecap="round" />
<path d="M335 456 L351.5 452 C363 490 374 520 343 540.5 L341.5 541 C352 520 341 485 335 456 Z" fill="#d0d0d0" stroke="none"/>
<path d="M335.0 456.0 C341.0 485.0 352.0 520.0 341.5 541.0" fill="none" stroke="#222" stroke-width="0.98" stroke-linejoin="round" stroke-linecap="round" />
<path d="M336.5 455.6 C343.0 485.5 354.0 520.0 341.6 541.0" fill="none" stroke="#222" stroke-width="0.98" stroke-linejoin="round" stroke-linecap="round" />
<path d="M338.0 455.3 C345.0 485.9 356.0 520.0 341.8 540.9" fill="none" stroke="#222" stroke-width="0.98" stroke-linejoin="round" stroke-linecap="round" />
<path d="M339.5 454.9 C347.0 486.4 358.0 520.0 341.9 540.9" fill="none" stroke="#222" stroke-width="0.98" stroke-linejoin="round" stroke-linecap="round" />
<path d="M341.0 454.5 C349.0 486.8 360.0 520.0 342.0 540.8" fill="none" stroke="#222" stroke-width="0.98" stroke-linejoin="round" stroke-linecap="round" />
<path d="M342.5 454.2 C351.0 487.3 362.0 520.0 342.2 540.8" fill="none" stroke="#222" stroke-width="0.98" stroke-linejoin="round" stroke-linecap="round" />
<path d="M344.0 453.8 C353.0 487.7 364.0 520.0 342.3 540.7" fill="none" stroke="#222" stroke-width="0.98" stroke-linejoin="round" stroke-linecap="round" />
<path d="M345.5 453.5 C355.0 488.2 366.0 520.0 342.5 540.7" fill="none" stroke="#222" stroke-width="0.98" stroke-linejoin="round" stroke-linecap="round" />
<path d="M347.0 453.1 C357.0 488.6 368.0 520.0 342.6 540.6" fill="none" stroke="#222" stroke-width="0.98" stroke-linejoin="round" stroke-linecap="round" />
<path d="M348.5 452.7 C359.0 489.1 370.0 520.0 342.7 540.6" fill="none" stroke="#222" stroke-width="0.98" stroke-linejoin="round" stroke-linecap="round" />
<path d="M350.0 452.4 C361.0 489.5 372.0 520.0 342.9 540.5" fill="none" stroke="#222" stroke-width="0.98" stroke-linejoin="round" stroke-linecap="round" />
<path d="M351.5 452.0 C363.0 490.0 374.0 520.0 343.0 540.5" fill="none" stroke="#222" stroke-width="0.98" stroke-linejoin="round" stroke-linecap="round" />
<path d="M286 427 Q287 423.5 291 424 L307 430 Q311 432 312 435 L324 486 L324 500 Q323 505 319 505 L302 499 Q297 496 296 490 Z" fill="#fff" stroke="#111" stroke-width="1.83" stroke-linejoin="round" stroke-linecap="round" />
<path d="M295 432 L305 490 Q306 494 310 496" fill="none" stroke="#111" stroke-width="1.1" stroke-linejoin="round" stroke-linecap="round" />
<path d="M297 430 L307 488" fill="none" stroke="#111" stroke-width="0.85" stroke-linejoin="round" stroke-linecap="round" />
<path d="M306 431 L314 480 Q315 485 320 487" fill="none" stroke="#111" stroke-width="1.46" stroke-linejoin="round" stroke-linecap="round" />
<path d="M302 499 L305 493 L322 499" fill="none" stroke="#111" stroke-width="1.1" stroke-linejoin="round" stroke-linecap="round" />
<path d="M287 428 L289 440" fill="none" stroke="#111" stroke-width="2.44" stroke-linejoin="round" stroke-linecap="round" />
<path d="M306 431 L307.5 438" fill="none" stroke="#111" stroke-width="2.44" stroke-linejoin="round" stroke-linecap="round" />
<ellipse cx="302.0" cy="415.0" rx="3.1" ry="3.5" fill="#fff" stroke="#111" stroke-width="1.22" transform="rotate(0 302.0 415.0)"/>
<ellipse cx="323.0" cy="412.4" rx="3.1" ry="3.5" fill="#fff" stroke="#111" stroke-width="1.22" transform="rotate(0 323.0 412.4)"/>
<ellipse cx="316.0" cy="422.4" rx="4.3" ry="5" fill="#fff" stroke="#111" stroke-width="1.34" transform="rotate(0 316.0 422.4)"/>
<ellipse cx="337.2" cy="420.0" rx="3.1" ry="3.5" fill="#fff" stroke="#111" stroke-width="1.22" transform="rotate(0 337.2 420.0)"/>
<ellipse cx="279.0" cy="429.4" rx="3.8" ry="4.6" fill="#fff" stroke="#111" stroke-width="1.34" transform="rotate(0 279.0 429.4)"/>
<circle cx="319.4" cy="445.0" r="1.8" fill="#fff" stroke="#111" stroke-width="0.98"/>
<circle cx="321.2" cy="454.0" r="1.3" fill="#fff" stroke="#111" stroke-width="0.98"/>
<circle cx="318.0" cy="515.4" r="3.4" fill="#fff" stroke="#111" stroke-width="1.22"/>
<circle cx="318.3" cy="515.8" r="2.0" fill="#777" stroke="#111" stroke-width="0.61"/>
<circle cx="334.2" cy="515.0" r="2.4" fill="#fff" stroke="#111" stroke-width="1.1"/>
<line x1="171.0" y1="343.0" x2="180.0" y2="338.0" stroke="#222" stroke-width="0.9"/>
<path d="M310.2 236.2 L321.5 227.5 L326.4 229.2 L325.3 231.8 Q322.5 233.5 321.5 236.2 Q320 239 319.9 241.5 Q320.5 244.5 323.2 246.9 L329.6 251.8 L328 254.5 L323.2 257.7 L326.9 263.1 L328.5 282.5 L317.2 288.9 L313.5 287.3 L311.3 283.5 L310.8 263.1 L312.9 256.1 L310.8 254.5 L309.2 245.8 L310.8 244.8 Z" fill="#fff" stroke="#111" stroke-width="1.83" stroke-linejoin="round" stroke-linecap="round" />
<path d="M310.8 244.8 L315 246.4 Q315.5 240 318 235 Q319.5 232 325.3 231.8" fill="none" stroke="#111" stroke-width="1.1" stroke-linejoin="round" stroke-linecap="round" />
<path d="M315 246.4 Q316.5 252 323.2 257.7" fill="none" stroke="#111" stroke-width="1.1" stroke-linejoin="round" stroke-linecap="round" />
<path d="M312.9 256.1 L318.8 257.2 L323.2 257.7" fill="none" stroke="#111" stroke-width="0.98" stroke-linejoin="round" stroke-linecap="round" />
<path d="M310.8 263.1 L318.8 267.4 L326.9 263.1" fill="none" stroke="#111" stroke-width="1.1" stroke-linejoin="round" stroke-linecap="round" />
<path d="M318.8 267.4 L321 284.6" fill="none" stroke="#111" stroke-width="1.1" stroke-linejoin="round" stroke-linecap="round" />
<path d="M313 257 L313.5 262 L318.8 264.5 L321 262 L318.8 257.2" fill="none" stroke="#111" stroke-width="0.85" stroke-linejoin="round" stroke-linecap="round" />
<circle cx="316.4" cy="284.4" r="2.1" fill="#fff" stroke="#111" stroke-width="1.22"/>
<circle cx="316.7" cy="284.7" r="1.0" fill="#bbb" stroke="#111" stroke-width="0.61"/>
<path d="M323.2 278.5 L323.6 284 M326 277.5 L326.4 282.8" fill="none" stroke="#111" stroke-width="1.22" stroke-linejoin="round" stroke-linecap="round" />
<line x1="294.4" y1="263.0" x2="310.6" y2="262.6" stroke="#222" stroke-width="0.9"/>
<path d="M299.6 269 L301.6 290" fill="none" stroke="#111" stroke-width="2.0" stroke-linecap="round" stroke-linejoin="round"/>
<path d="M299.6 269 L301.6 290" fill="none" stroke="#fff" stroke-width="0.6" stroke-linecap="round" stroke-linejoin="round"/>
<circle cx="301.4" cy="293.4" r="2.9" fill="#fff" stroke="#111" stroke-width="1.59"/>
<circle cx="301.4" cy="293.4" r="1.0" fill="#888" stroke="#111" stroke-width="0.61"/>
<path d="M302.5 296 Q303 302 306.5 305" fill="none" stroke="#111" stroke-width="2.0" stroke-linecap="round" stroke-linejoin="round"/>
<path d="M302.5 296 Q303 302 306.5 305" fill="none" stroke="#fff" stroke-width="0.6" stroke-linecap="round" stroke-linejoin="round"/>
<line x1="285.0" y1="279.0" x2="299.5" y2="279.4" stroke="#222" stroke-width="0.9"/>
<line x1="273.0" y1="312.0" x2="291.5" y2="302.0" stroke="#111" stroke-width="5.0" stroke-linecap="round"/>
<line x1="273.0" y1="312.0" x2="291.5" y2="302.0" stroke="#fff" stroke-width="2.60" stroke-linecap="round"/>
<line x1="273.4" y1="312.7" x2="291.9" y2="302.7" stroke="#555" stroke-width="1.2"/>
<line x1="284.4" y1="296.6" x2="283.0" y2="301.0" stroke="#222" stroke-width="0.9"/>
<path d="M332.3 283.5 Q334 281 337.2 279.8 L340.9 279.8 L357 287.8 Q360 290 360.8 293.2 Q360.5 296.5 358.2 298.6 L353.8 300.2 L345.2 295.4 L343 292.2 Z" fill="#fff" stroke="#111" stroke-width="1.83" stroke-linejoin="round" stroke-linecap="round" />
<path d="M337.2 279.8 L335.8 284.6 L345.2 290 L354 295.3 L358.2 298.6" fill="none" stroke="#111" stroke-width="1.1" stroke-linejoin="round" stroke-linecap="round" />
<path d="M340.9 279.8 L339.8 283.6" fill="none" stroke="#111" stroke-width="0.98" stroke-linejoin="round" stroke-linecap="round" />
<line x1="323.0" y1="296.8" x2="339.0" y2="288.0" stroke="#111" stroke-width="10.0" stroke-linecap="round"/>
<line x1="323.0" y1="296.8" x2="339.0" y2="288.0" stroke="#fff" stroke-width="7.20" stroke-linecap="round"/>
<line x1="325.5" y1="300.2" x2="341.0" y2="291.4" stroke="#555" stroke-width="1.6"/>
<ellipse cx="321.5" cy="297.5" rx="4.0" ry="5.2" fill="#fff" stroke="#111" stroke-width="1.46" transform="rotate(28 321.5 297.5)"/>
<path d="M320 295.5 Q322 295.5 323 297.5 Q322.5 300.5 320.8 300.5" fill="none" stroke="#111" stroke-width="0.98" stroke-linejoin="round" stroke-linecap="round" />
<path d="M327 289 L328.2 291.4 L331.6 289.6 L330.8 287" fill="none" stroke="#111" stroke-width="1.1" stroke-linejoin="round" stroke-linecap="round" />
<ellipse cx="342.0" cy="286.8" rx="2.8" ry="5.0" fill="#fff" stroke="#111" stroke-width="1.34" transform="rotate(28 342.0 286.8)"/>
<path d="M343.5 282.5 Q346.5 286 344 291.5" fill="none" stroke="#111" stroke-width="1.1" stroke-linejoin="round" stroke-linecap="round" />
<line x1="357.6" y1="276.0" x2="351.5" y2="286.0" stroke="#222" stroke-width="0.9"/>
<circle cx="335.0" cy="320.0" r="2.8" fill="#fff" stroke="#111" stroke-width="1.59"/>
<circle cx="335.0" cy="320.0" r="1.0" fill="#888" stroke="#111" stroke-width="0.61"/>
<path d="M333.5 322.4 L329 335" fill="none" stroke="#111" stroke-width="2.0" stroke-linecap="round" stroke-linejoin="round"/>
<path d="M333.5 322.4 L329 335" fill="none" stroke="#fff" stroke-width="0.6" stroke-linecap="round" stroke-linejoin="round"/>
<path d="M336.8 322.4 L338 331" fill="none" stroke="#111" stroke-width="2.0" stroke-linecap="round" stroke-linejoin="round"/>
<path d="M336.8 322.4 L338 331" fill="none" stroke="#fff" stroke-width="0.6" stroke-linecap="round" stroke-linejoin="round"/>
<path d="M338 331 L344 334 L353 335" fill="none" stroke="#111" stroke-width="0.98" stroke-linejoin="round" stroke-linecap="round" />
<path d="M312.4 331.0 L316.0 328.6 L348.0 343.0 L357.0 353.0 L356.0 360.0 L339.0 352.0 L337.0 355.0 L332.0 354.0 L320.0 347.0 L319.0 339.0 L312.4 333.0 Z" fill="#fff" stroke="#111" stroke-width="1.71" stroke-linejoin="round" stroke-linecap="round" />
<path d="M316.0 328.6 L317.0 331.5 L347.0 346.0 L356.0 356.0" fill="none" stroke="#111" stroke-width="0.98" stroke-linejoin="round" stroke-linecap="round" />
<path d="M332 336 L336 334 L344 338 L348 343" fill="none" stroke="#111" stroke-width="1.1" stroke-linejoin="round" stroke-linecap="round" />
<circle cx="322.5" cy="341.5" r="0.9" fill="#333" stroke="#111" stroke-width="0.61"/>
<circle cx="334.0" cy="351.5" r="0.9" fill="#333" stroke="#111" stroke-width="0.61"/>
<line x1="294.0" y1="344.0" x2="319.0" y2="344.0" stroke="#222" stroke-width="0.9"/>
<line x1="367.5" y1="318.8" x2="382.5" y2="309.0" stroke="#111" stroke-width="2.6" stroke-linecap="round"/>
<line x1="367.5" y1="318.8" x2="382.5" y2="309.0" stroke="#ddd" stroke-width="0.80" stroke-linecap="round"/>
<line x1="378.5" y1="325.2" x2="393.0" y2="316.0" stroke="#111" stroke-width="2.6" stroke-linecap="round"/>
<line x1="378.5" y1="325.2" x2="393.0" y2="316.0" stroke="#ddd" stroke-width="0.80" stroke-linecap="round"/>
<line x1="383.0" y1="310.0" x2="408.0" y2="312.0" stroke="#222" stroke-width="0.9"/>
<line x1="393.0" y1="318.0" x2="405.0" y2="327.0" stroke="#222" stroke-width="0.9"/>
<path d="M399 275 L412 282" fill="none" stroke="#111" stroke-width="2.2" stroke-linecap="round" stroke-linejoin="round"/>
<path d="M399 275 L412 282" fill="none" stroke="#fff" stroke-width="0.7" stroke-linecap="round" stroke-linejoin="round"/>
<circle cx="414.6" cy="283.4" r="3.2" fill="#ddd" stroke="#111" stroke-width="1.71"/>
<circle cx="414.6" cy="283.4" r="1.2" fill="#fff" stroke="#111" stroke-width="0.85"/>
<path d="M417.5 285 L424 288.5 Q427 290 427.4 294.5" fill="none" stroke="#111" stroke-width="2.2" stroke-linecap="round" stroke-linejoin="round"/>
<path d="M417.5 285 L424 288.5 Q427 290 427.4 294.5" fill="none" stroke="#fff" stroke-width="0.7" stroke-linecap="round" stroke-linejoin="round"/>
<line x1="392.0" y1="247.0" x2="399.0" y2="274.0" stroke="#222" stroke-width="0.9"/>
<path d="M404.5 249.5 Q405.5 246 408.4 244.2 Q410.5 242.8 413 242.6 Q416 243 418.4 244.9 Q421 247 422.2 249.5 L423.8 252.6 L462.2 271 Q464 268.6 466.8 268.8 Q469.5 269 470.7 270.3 L474.5 275.7 L485.3 281.8 Q487.8 284 488.4 287.2 L489.2 299.5 L480.7 305.7 L476.8 307.2 Q474 306.5 473 304.2 Q472 301.5 472.2 299.5 Q473.5 297.2 476 296.5 L479.2 295.7 L473 290.3 L420.7 261 L416 261 L413.8 260.3 L412.2 261.8 L408.4 262.6 L400 266.5 Q397.5 266 396.8 264.2 Q396.6 262.2 397.6 261 L404.5 256.5 Z" fill="#fff" stroke="#111" stroke-width="1.83" stroke-linejoin="round" stroke-linecap="round" />
<path d="M423.8 252.6 L421.5 261" fill="none" stroke="#111" stroke-width="0.98" stroke-linejoin="round" stroke-linecap="round" />
<path d="M426 255.7 L460.7 272.6 Q463 270.5 465.3 271 Q468 271.2 470 272.6 L473 277.2 L483.8 283.4" fill="none" stroke="#111" stroke-width="1.1" stroke-linejoin="round" stroke-linecap="round" />
<path d="M445.3 266.5 L448.4 265.7 L466.8 275 Q470.5 277 471.5 279.5 L473 287.2" fill="none" stroke="#111" stroke-width="1.1" stroke-linejoin="round" stroke-linecap="round" />
<path d="M445.3 266.5 Q443.6 268 445 269.2 L465.3 279 Q469 281.5 470 284.6" fill="none" stroke="#111" stroke-width="0.98" stroke-linejoin="round" stroke-linecap="round" />
<path d="M474.5 275.7 L473.8 287.2 L485.3 293.4 L488.4 287.2" fill="none" stroke="#111" stroke-width="1.1" stroke-linejoin="round" stroke-linecap="round" />
<path d="M485.3 293.4 L485.3 302.5" fill="none" stroke="#111" stroke-width="0.98" stroke-linejoin="round" stroke-linecap="round" />
<circle cx="476.8" cy="302.4" r="3.6" fill="#fff" stroke="#111" stroke-width="1.34"/>
<circle cx="476.8" cy="303.6" r="1.7" fill="#ccc" stroke="#111" stroke-width="1.1"/>
<path d="M404.5 256.5 L408.4 255 L413 256.5 L413.8 260.3" fill="none" stroke="#111" stroke-width="1.1" stroke-linejoin="round" stroke-linecap="round" />
<path d="M408.4 255 L408.4 262.6" fill="none" stroke="#111" stroke-width="0.98" stroke-linejoin="round" stroke-linecap="round" />
<path d="M398.2 261.3 Q399.8 262 400 266" fill="none" stroke="#111" stroke-width="0.85" stroke-linejoin="round" stroke-linecap="round" />
<line x1="489.0" y1="302.0" x2="495.0" y2="304.0" stroke="#222" stroke-width="0.9"/>
<path d="M432 276 Q436 275.5 438 279 Q439 282 442 283 L461 290 Q465 292.5 463 295.5 L452 297.5 L447 301 Q444 302 443 299" fill="none" stroke="#111" stroke-width="2.3" stroke-linecap="round" stroke-linejoin="round"/>
<path d="M432 276 Q436 275.5 438 279 Q439 282 442 283 L461 290 Q465 292.5 463 295.5 L452 297.5 L447 301 Q444 302 443 299" fill="none" stroke="#fff" stroke-width="0.7" stroke-linecap="round" stroke-linejoin="round"/>
<line x1="452.0" y1="298.0" x2="496.0" y2="319.0" stroke="#222" stroke-width="0.9"/>
<ellipse cx="504.4" cy="268.0" rx="7.4" ry="7.252" fill="#c4c4c4" stroke="#111" stroke-width="1.4" transform="rotate(0 504.4 268.0)"/>
<path d="M505.3 262.4 Q510.0 267.2 505.3 273.8" fill="none" stroke="#333" stroke-width="1.1" stroke-linejoin="round" stroke-linecap="round" />
<path d="M503.3 263.0 Q507.8 267.7 503.3 273.2" fill="none" stroke="#eee" stroke-width="1.1" stroke-linejoin="round" stroke-linecap="round" />
<ellipse cx="501.8" cy="269.4" rx="4.44" ry="4.588" fill="#f0f0f0" stroke="#111" stroke-width="1.22" transform="rotate(0 501.8 269.4)"/>
<circle cx="501.2" cy="269.8" r="2.22" fill="#fff" stroke="#111" stroke-width="0.98"/>
<ellipse cx="543.0" cy="360.0" rx="7.4" ry="7.252" fill="#c4c4c4" stroke="#111" stroke-width="1.4" transform="rotate(0 543.0 360.0)"/>
<path d="M543.9 354.4 Q548.6 359.2 543.9 365.8" fill="none" stroke="#333" stroke-width="1.1" stroke-linejoin="round" stroke-linecap="round" />
<path d="M541.9 355.0 Q546.4 359.7 541.9 365.2" fill="none" stroke="#eee" stroke-width="1.1" stroke-linejoin="round" stroke-linecap="round" />
<ellipse cx="540.4" cy="361.4" rx="4.44" ry="4.588" fill="#f0f0f0" stroke="#111" stroke-width="1.22" transform="rotate(0 540.4 361.4)"/>
<circle cx="539.8" cy="361.8" r="2.22" fill="#fff" stroke="#111" stroke-width="0.98"/>
<ellipse cx="103.0" cy="552.8" rx="7.4" ry="7.252" fill="#c4c4c4" stroke="#111" stroke-width="1.4" transform="rotate(0 103.0 552.8)"/>
<path d="M103.9 547.2 Q108.6 552.0 103.9 558.6" fill="none" stroke="#333" stroke-width="1.1" stroke-linejoin="round" stroke-linecap="round" />
<path d="M101.9 547.8 Q106.4 552.5 101.9 558.0" fill="none" stroke="#eee" stroke-width="1.1" stroke-linejoin="round" stroke-linecap="round" />
<ellipse cx="100.4" cy="554.2" rx="4.44" ry="4.588" fill="#f0f0f0" stroke="#111" stroke-width="1.22" transform="rotate(0 100.4 554.2)"/>
<circle cx="99.8" cy="554.6" r="2.22" fill="#fff" stroke="#111" stroke-width="0.98"/>
<ellipse cx="138.6" cy="639.8" rx="7.4" ry="7.252" fill="#c4c4c4" stroke="#111" stroke-width="1.4" transform="rotate(0 138.6 639.8)"/>
<path d="M139.5 634.2 Q144.2 639.0 139.5 645.6" fill="none" stroke="#333" stroke-width="1.1" stroke-linejoin="round" stroke-linecap="round" />
<path d="M137.5 634.8 Q142.0 639.5 137.5 645.0" fill="none" stroke="#eee" stroke-width="1.1" stroke-linejoin="round" stroke-linecap="round" />
<ellipse cx="136.0" cy="641.2" rx="4.44" ry="4.588" fill="#f0f0f0" stroke="#111" stroke-width="1.22" transform="rotate(0 136.0 641.2)"/>
<circle cx="135.4" cy="641.6" r="2.22" fill="#fff" stroke="#111" stroke-width="0.98"/>
<line x1="496.0" y1="259.0" x2="500.0" y2="263.0" stroke="#222" stroke-width="0.8"/>
<line x1="535.0" y1="350.5" x2="539.0" y2="355.0" stroke="#222" stroke-width="0.8"/>
<line x1="109.0" y1="559.0" x2="114.0" y2="563.0" stroke="#222" stroke-width="0.8"/>
<line x1="140.0" y1="646.0" x2="146.0" y2="651.0" stroke="#222" stroke-width="0.8"/>
<line x1="589.0" y1="212.0" x2="580.5" y2="217.5" stroke="#111" stroke-width="5.4" stroke-linecap="round"/>
<line x1="589.0" y1="212.0" x2="580.5" y2="217.5" stroke="#fff" stroke-width="2.80" stroke-linecap="round"/>
<line x1="584.3" y1="215.9" x2="580.2" y2="218.4" stroke="#555" stroke-width="1.3"/>
<ellipse cx="589.0" cy="212.0" rx="4.3" ry="3.698" fill="#d8d8d8" stroke="#111" stroke-width="1.95" transform="rotate(-30 589.0 212.0)"/>
<ellipse cx="589.6" cy="211.5" rx="2.15" ry="1.72" fill="#fff" stroke="#111" stroke-width="0.98" transform="rotate(-30 589.6 211.5)"/>
<line x1="614.0" y1="310.0" x2="605.5" y2="314.5" stroke="#111" stroke-width="5.4" stroke-linecap="round"/>
<line x1="614.0" y1="310.0" x2="605.5" y2="314.5" stroke="#fff" stroke-width="2.80" stroke-linecap="round"/>
<line x1="609.3" y1="313.4" x2="605.2" y2="315.4" stroke="#555" stroke-width="1.3"/>
<ellipse cx="614.0" cy="310.0" rx="4.3" ry="3.698" fill="#d8d8d8" stroke="#111" stroke-width="1.95" transform="rotate(-30 614.0 310.0)"/>
<ellipse cx="614.6" cy="309.5" rx="2.15" ry="1.72" fill="#fff" stroke="#111" stroke-width="0.98" transform="rotate(-30 614.6 309.5)"/>
<line x1="585.0" y1="219.0" x2="594.0" y2="230.0" stroke="#222" stroke-width="0.9"/>
<line x1="616.0" y1="316.0" x2="619.0" y2="326.0" stroke="#222" stroke-width="0.9"/>
<line x1="35.0" y1="602.0" x2="45.0" y2="596.2" stroke="#111" stroke-width="5.2" stroke-linecap="round"/>
<line x1="35.0" y1="602.0" x2="45.0" y2="596.2" stroke="#fff" stroke-width="2.60" stroke-linecap="round"/>
<line x1="41.0" y1="599.5" x2="45.0" y2="597.2" stroke="#555" stroke-width="1.3"/>
<ellipse cx="35.0" cy="602.0" rx="5.4" ry="4.968000000000001" fill="#fff" stroke="#111" stroke-width="2.07" transform="rotate(0 35.0 602.0)"/>
<line x1="31.6" y1="604.6" x2="38.4" y2="599.4" stroke="#111" stroke-width="1.7"/>
<path d="M30.8 603.0 Q31.2 605.8 35.0 606.2" fill="none" stroke="#111" stroke-width="0.98" stroke-linejoin="round" stroke-linecap="round" />
<line x1="48.0" y1="700.0" x2="57.5" y2="694.3" stroke="#111" stroke-width="5.2" stroke-linecap="round"/>
<line x1="48.0" y1="700.0" x2="57.5" y2="694.3" stroke="#fff" stroke-width="2.60" stroke-linecap="round"/>
<line x1="53.7" y1="697.6" x2="57.5" y2="695.3" stroke="#555" stroke-width="1.3"/>
<ellipse cx="48.0" cy="700.0" rx="5.4" ry="4.968000000000001" fill="#fff" stroke="#111" stroke-width="2.07" transform="rotate(0 48.0 700.0)"/>
<line x1="44.6" y1="702.6" x2="51.4" y2="697.4" stroke="#111" stroke-width="1.7"/>
<path d="M43.8 701.0 Q44.2 703.8 48.0 704.2" fill="none" stroke="#111" stroke-width="0.98" stroke-linejoin="round" stroke-linecap="round" />
<line x1="36.0" y1="609.0" x2="37.6" y2="612.0" stroke="#222" stroke-width="0.9"/>
<line x1="47.0" y1="706.5" x2="45.0" y2="711.0" stroke="#222" stroke-width="0.9"/>
<path d="M514 204 L520 203 L558 220 L562 228 L580 236 L584 241 L587 249 L580 253 L578 263 L580 273 L600 327 L602 343 L600 366 L586 361 L576 357 L544 341 L532 269 L524 257 L520 249 L512 209 Z" fill="#fff" stroke="#111" stroke-width="1.52" stroke-linejoin="round" stroke-linecap="round" />
<path d="M516 211 L523 212 L556 227 Q561 234 558 240" fill="none" stroke="#111" stroke-width="1.1" stroke-linejoin="round" stroke-linecap="round" />
<path d="M512.5 216 L516 213.6 L556 231 L560 236" fill="none" stroke="#111" stroke-width="1.1" stroke-linejoin="round" stroke-linecap="round" />
<path d="M523 212 L527 250 L539 270 L551 337 L563 341" fill="none" stroke="#111" stroke-width="1.34" stroke-linejoin="round" stroke-linecap="round" />
<path d="M519 213 L523 249 L535 271 L547 339" fill="none" stroke="#111" stroke-width="0.85" stroke-linejoin="round" stroke-linecap="round" />
<path d="M562 228 L560 237 L550 280 L565 288 L570 267 L580 249 L584 241" fill="none" stroke="#111" stroke-width="1.22" stroke-linejoin="round" stroke-linecap="round" />
<path d="M564 231 L580 239" fill="none" stroke="#111" stroke-width="0.98" stroke-linejoin="round" stroke-linecap="round" />
<path d="M565 288 L566 284 L552 277" fill="none" stroke="#111" stroke-width="0.85" stroke-linejoin="round" stroke-linecap="round" />
<circle cx="569.5" cy="285.0" r="1.8" fill="#fff" stroke="#111" stroke-width="0.98"/>
<path d="M580 273 L576 278 L594 330 L596 345 L594 363" fill="none" stroke="#111" stroke-width="1.1" stroke-linejoin="round" stroke-linecap="round" />
<path d="M570 267 L574 283 L590 330 L591 361" fill="none" stroke="#111" stroke-width="0.85" stroke-linejoin="round" stroke-linecap="round" />
<ellipse cx="549.0" cy="240.0" rx="7" ry="6.4" fill="#fff" stroke="#111" stroke-width="1.46" transform="rotate(0 549.0 240.0)"/>
<ellipse cx="549.6" cy="240.4" rx="4.4" ry="4" fill="#fff" stroke="#111" stroke-width="1.46" transform="rotate(0 549.6 240.4)"/>
<circle cx="550.5" cy="240.8" r="2.4" fill="#999" stroke="#111" stroke-width="0.61"/>
<ellipse cx="571.0" cy="341.0" rx="7" ry="6.4" fill="#fff" stroke="#111" stroke-width="1.46" transform="rotate(0 571.0 341.0)"/>
<ellipse cx="571.6" cy="341.4" rx="4.4" ry="4" fill="#fff" stroke="#111" stroke-width="1.46" transform="rotate(0 571.6 341.4)"/>
<circle cx="572.5" cy="341.8" r="2.4" fill="#999" stroke="#111" stroke-width="0.61"/>
<path d="M563 341 L565 348 L576 357" fill="none" stroke="#111" stroke-width="0.98" stroke-linejoin="round" stroke-linecap="round" />
<path d="M576 336 L582 340 L586 361" fill="none" stroke="#111" stroke-width="1.1" stroke-linejoin="round" stroke-linecap="round" />
<path d="M524 251 Q522 256 527 257" fill="none" stroke="#111" stroke-width="0.98" stroke-linejoin="round" stroke-linecap="round" />
<line x1="582.0" y1="275.0" x2="590.0" y2="271.0" stroke="#222" stroke-width="0.9"/>
<path d="M564.0 227.0 L580.0 219.0" fill="none" stroke="#222" stroke-width="0.9" stroke-dasharray="11 2.5 1.5 2.5"/>
<path d="M524.0 253.0 L542.0 244.0" fill="none" stroke="#222" stroke-width="0.9" stroke-dasharray="11 2.5 1.5 2.5"/>
<path d="M600.0 321.0 L606.0 317.0" fill="none" stroke="#222" stroke-width="0.9" stroke-dasharray="11 2.5 1.5 2.5"/>
<path d="M549.0 357.0 L564.0 346.0" fill="none" stroke="#222" stroke-width="0.9" stroke-dasharray="11 2.5 1.5 2.5"/>
<path d="M489.0 278.0 L497.0 274.0" fill="none" stroke="#222" stroke-width="0.9" stroke-dasharray="11 2.5 1.5 2.5"/>
<path d="M511.0 264.0 L519.0 259.5" fill="none" stroke="#222" stroke-width="0.9" stroke-dasharray="11 2.5 1.5 2.5"/>
<path d="M379.4 348 Q379.8 345.5 381.5 344.7 L385.3 344.7 L397.2 350 L401 354.4 L410.6 369.5 Q411.6 372.5 411.2 374.8 Q410 377.8 407.4 379.2 L403 380.2 Q399.5 379.6 397.7 377.5 Q395.6 375 395.5 372.7 Q396 370 397.7 369 L392.3 367.3 L388.5 363 L388 357.6 L384.8 356.5 L380 352.2 Z" fill="#fff" stroke="#111" stroke-width="1.83" stroke-linejoin="round" stroke-linecap="round" />
<path d="M388 357.6 L391.2 356.5 L398.2 360.3 L398.8 366.2 L397.7 369" fill="none" stroke="#111" stroke-width="1.22" stroke-linejoin="round" stroke-linecap="round" />
<path d="M382 345.5 L397 352.5" fill="none" stroke="#111" stroke-width="0.85" stroke-linejoin="round" stroke-linecap="round" />
<circle cx="402.0" cy="374.3" r="3.9" fill="#fff" stroke="#111" stroke-width="1.34"/>
<circle cx="402.0" cy="374.3" r="1.9" fill="#fff" stroke="#111" stroke-width="1.1"/>
<path d="M398.5 363.5 L400 368 M406.5 370.5 L407.5 373" fill="none" stroke="#111" stroke-width="0.85" stroke-linejoin="round" stroke-linecap="round" />
<path d="M365.4 363 Q365.8 360.8 367.5 359.8 L370.8 359.8 L380.5 365.7 L383.2 369.5 L385.8 376.5 L383.2 379.2 L380.5 378 L377.8 374.3 L375 372.7 L369.7 369.5 L366 366.2 Z" fill="#fff" stroke="#111" stroke-width="1.71" stroke-linejoin="round" stroke-linecap="round" />
<path d="M375 372.7 L376.2 369.5 L380.5 368.4" fill="none" stroke="#111" stroke-width="1.1" stroke-linejoin="round" stroke-linecap="round" />
<path d="M377.8 374.3 L379.4 371 L383.2 370.5" fill="none" stroke="#111" stroke-width="1.1" stroke-linejoin="round" stroke-linecap="round" />
<path d="M368 360.5 L379 367" fill="none" stroke="#111" stroke-width="0.85" stroke-linejoin="round" stroke-linecap="round" />
<line x1="413.5" y1="367.6" x2="420.5" y2="363.4" stroke="#111" stroke-width="2.6" stroke-linecap="round"/>
<line x1="413.5" y1="367.6" x2="420.5" y2="363.4" stroke="#ddd" stroke-width="0.80" stroke-linecap="round"/>
<line x1="421.0" y1="363.6" x2="428.0" y2="363.0" stroke="#222" stroke-width="0.9"/>
<line x1="411.0" y1="375.0" x2="427.0" y2="377.0" stroke="#222" stroke-width="0.9"/>
<line x1="387.0" y1="377.5" x2="415.0" y2="388.0" stroke="#222" stroke-width="0.9"/>
<path d="M455.8 357.6 Q457 355 459 353.3 L464.4 350.6 L472 352.8 L477.3 351.2 L480.5 352.8 Q482.8 355.5 482.7 358.7 L481 365.2 L477.3 373.8 Q475 378.5 475.2 382.4 L477.3 388.8 L477.8 398.5 L476.2 402.3 L473.5 405.5 L469.8 402.8 L466.5 400.7 L462.8 403.9 L460 405 L457.4 401.8 L453.6 399.6 Q451.3 396.5 451.5 393.2 L452.5 387.8 L456.3 381.3 Q457.2 376 456.8 370.5 Z" fill="#fff" stroke="#111" stroke-width="1.83" stroke-linejoin="round" stroke-linecap="round" />
<path d="M472 352.8 Q475.5 357 475.2 360 L469.3 378 Q468.5 383 470.3 388 L472 399.6" fill="none" stroke="#111" stroke-width="1.1" stroke-linejoin="round" stroke-linecap="round" />
<line x1="473.4" y1="352.6" x2="476.0" y2="358.2" stroke="#333" stroke-width="0.7"/>
<line x1="474.9" y1="352.4" x2="477.1" y2="357.6" stroke="#333" stroke-width="0.7"/>
<line x1="476.4" y1="352.1" x2="478.2" y2="357.0" stroke="#333" stroke-width="0.7"/>
<line x1="477.9" y1="351.9" x2="479.3" y2="356.4" stroke="#333" stroke-width="0.7"/>
<line x1="479.4" y1="351.6" x2="480.4" y2="355.8" stroke="#333" stroke-width="0.7"/>
<circle cx="470.0" cy="362.1" r="2.6" fill="#fff" stroke="#111" stroke-width="1.34"/>
<path d="M468 361 Q469.5 359.8 471.5 360.4" fill="none" stroke="#111" stroke-width="0.73" stroke-linejoin="round" stroke-linecap="round" />
<circle cx="459.0" cy="394.8" r="4.3" fill="#fff" stroke="#111" stroke-width="1.46"/>
<circle cx="458.8" cy="395.0" r="2.3" fill="#fff" stroke="#111" stroke-width="1.22"/>
<circle cx="467.0" cy="397.0" r="1.4" fill="#fff" stroke="#111" stroke-width="0.98"/>
<path d="M474.5 395 L475.3 401.5" fill="none" stroke="#666" stroke-width="2.68" stroke-linejoin="round" stroke-linecap="round" />
<line x1="478.0" y1="390.0" x2="505.0" y2="398.0" stroke="#222" stroke-width="0.9"/>
<path d="M488 343 L494 341.5 L496.7 345.8 L500 353.3 L507.5 358.2 Q510 360.5 510.2 363 Q510 366 508.5 367.3 L503.2 370.5 L503.7 373.2 L501 373.8 L497.8 370.5 L495.6 366.2 L492.4 362.5 L489.2 362 L489.2 357.6 L490.8 354.4 Z" fill="#fff" stroke="#111" stroke-width="1.59" stroke-linejoin="round" stroke-linecap="round" />
<circle cx="504.0" cy="364.3" r="2.0" fill="#fff" stroke="#111" stroke-width="1.1"/>
<path d="M502.0 376.0 L513.0 387.0 L520.0 387.0" fill="none" stroke="#111" stroke-width="1.1" stroke-linejoin="round" stroke-linecap="round" />
<path d="M183 398 Q186 393.5 190 392 L196 392 Q200 394 201 398 L202 408 Q207 416 208 422 Q209 430 207 434 Q205 440 202 444 Q198 449 192 451 L190 448 Q193 444 193 440 Q193.5 433 192 428 Q190 421 187 417 L184 414 Z" fill="#fff" stroke="#111" stroke-width="1.83" stroke-linejoin="round" stroke-linecap="round" />
<path d="M196 392 L196 404 L202 408" fill="none" stroke="#111" stroke-width="1.1" stroke-linejoin="round" stroke-linecap="round" />
<path d="M196 404 L187 417" fill="none" stroke="#111" stroke-width="1.1" stroke-linejoin="round" stroke-linecap="round" />
<path d="M202 413 Q204 430 196 448" fill="none" stroke="#111" stroke-width="0.98" stroke-linejoin="round" stroke-linecap="round" />
<circle cx="188.0" cy="401.0" r="1.7" fill="#fff" stroke="#111" stroke-width="1.1"/>
<circle cx="189.0" cy="409.0" r="1.7" fill="#fff" stroke="#111" stroke-width="1.1"/>
<circle cx="204.0" cy="436.0" r="1.8" fill="#fff" stroke="#111" stroke-width="1.1"/>
<line x1="162.0" y1="394.4" x2="183.0" y2="398.0" stroke="#222" stroke-width="0.9"/>
<path d="M167.6 402 L170.6 416.5" fill="none" stroke="#111" stroke-width="2.0" stroke-linecap="round" stroke-linejoin="round"/>
<path d="M167.6 402 L170.6 416.5" fill="none" stroke="#fff" stroke-width="0.6" stroke-linecap="round" stroke-linejoin="round"/>
<circle cx="170.0" cy="420.0" r="3.0" fill="#fff" stroke="#111" stroke-width="1.59"/>
<circle cx="170.0" cy="420.0" r="1.0" fill="#888" stroke="#111" stroke-width="0.61"/>
<path d="M172.4 422.5 L176 425 L187 431" fill="none" stroke="#111" stroke-width="2.0" stroke-linecap="round" stroke-linejoin="round"/>
<path d="M172.4 422.5 L176 425 L187 431" fill="none" stroke="#fff" stroke-width="0.6" stroke-linecap="round" stroke-linejoin="round"/>
<line x1="140.0" y1="409.6" x2="167.5" y2="408.0" stroke="#222" stroke-width="0.9"/>
<line x1="150.5" y1="431.0" x2="161.6" y2="425.5" stroke="#111" stroke-width="4.6" stroke-linecap="round"/>
<line x1="150.5" y1="431.0" x2="161.6" y2="425.5" stroke="#fff" stroke-width="2.20" stroke-linecap="round"/>
<line x1="150.8" y1="431.5" x2="161.9" y2="426.0" stroke="#555" stroke-width="1.2"/>
<path d="M134.7 436 Q136 434.2 139 433.8 L150.8 435 L154 436.6 L162.7 433.3 L168 434.4 L171.3 438.2 L172.4 446.2 L175.6 444.6 L180.5 447.3 L180 449.5 L173.5 451.6 L170.2 454.8 L167.5 461.8 L163.8 462.4 L152 456.5 L150.8 447.3 L149.8 445.2 L136.8 446.8 Q132.5 445 132.4 441.5 Q132.5 438 134.7 436 Z" fill="#fff" stroke="#111" stroke-width="1.83" stroke-linejoin="round" stroke-linecap="round" />
<circle cx="135.8" cy="442.3" r="2.6" fill="#fff" stroke="#111" stroke-width="1.22"/>
<path d="M134.5 441 L137 443.6 M137 441 L134.6 443.6" fill="none" stroke="#111" stroke-width="0.73" stroke-linejoin="round" stroke-linecap="round" />
<path d="M153.5 437 L164.8 442 L166.5 446.8 L156.2 443 Z" fill="#fff" stroke="#111" stroke-width="1.46" stroke-linejoin="round" stroke-linecap="round" />
<path d="M164.8 442 L168.5 439.8 L167.5 436 L162.7 433.3" fill="none" stroke="#111" stroke-width="1.22" stroke-linejoin="round" stroke-linecap="round" />
<path d="M164.8 442 L168.5 439.8 L170 444.6 L166.5 446.8 Z" fill="#444"/>
<path d="M150.8 447.3 L156.2 443" fill="none" stroke="#111" stroke-width="1.1" stroke-linejoin="round" stroke-linecap="round" />
<path d="M166.5 446.8 L172.4 446.2" fill="none" stroke="#111" stroke-width="1.1" stroke-linejoin="round" stroke-linecap="round" />
<path d="M151.2 449 L166 455.4 L170.2 454.8" fill="none" stroke="#111" stroke-width="1.22" stroke-linejoin="round" stroke-linecap="round" />
<line x1="151.6" y1="450.6" x2="165.0" y2="456.8" stroke="#222" stroke-width="1.1"/>
<line x1="151.6" y1="452.5" x2="165.0" y2="458.5" stroke="#222" stroke-width="1.1"/>
<line x1="151.6" y1="454.4" x2="165.0" y2="460.2" stroke="#222" stroke-width="1.1"/>
<line x1="151.6" y1="456.3" x2="165.0" y2="461.9" stroke="#222" stroke-width="1.1"/>
<line x1="143.0" y1="426.0" x2="149.0" y2="430.0" stroke="#222" stroke-width="0.9"/>
<line x1="211.0" y1="469.5" x2="228.0" y2="457.5" stroke="#111" stroke-width="3.4" stroke-linecap="round"/>
<line x1="211.0" y1="469.5" x2="228.0" y2="457.5" stroke="#fff" stroke-width="1.40" stroke-linecap="round"/>
<line x1="211.1" y1="469.7" x2="228.1" y2="457.7" stroke="#555" stroke-width="1.2"/>
<line x1="226.5" y1="458.5" x2="231.0" y2="455.3" stroke="#111" stroke-width="5.0" stroke-linecap="round"/>
<line x1="226.5" y1="458.5" x2="231.0" y2="455.3" stroke="#fff" stroke-width="3.00" stroke-linecap="round"/>
<line x1="231.5" y1="455.0" x2="234.0" y2="453.3" stroke="#111" stroke-width="2.6" stroke-linecap="round"/>
<line x1="231.5" y1="455.0" x2="234.0" y2="453.3" stroke="#fff" stroke-width="1.00" stroke-linecap="round"/>
<line x1="196.5" y1="479.4" x2="207.0" y2="473.6" stroke="#8a8a8a" stroke-width="3.9"/>
<ellipse cx="196.4" cy="479.5" rx="2.24" ry="2.50" fill="none" stroke="#111" stroke-width="1.0" transform="rotate(-17.2 196.4 479.5)"/>
<ellipse cx="198.2" cy="478.5" rx="2.24" ry="2.50" fill="none" stroke="#111" stroke-width="1.0" transform="rotate(-17.2 198.2 478.5)"/>
<ellipse cx="200.0" cy="477.5" rx="2.24" ry="2.50" fill="none" stroke="#111" stroke-width="1.0" transform="rotate(-17.2 200.0 477.5)"/>
<ellipse cx="201.8" cy="476.5" rx="2.24" ry="2.50" fill="none" stroke="#111" stroke-width="1.0" transform="rotate(-17.2 201.8 476.5)"/>
<ellipse cx="203.5" cy="475.5" rx="2.24" ry="2.50" fill="none" stroke="#111" stroke-width="1.0" transform="rotate(-17.2 203.5 475.5)"/>
<ellipse cx="205.3" cy="474.5" rx="2.24" ry="2.50" fill="none" stroke="#111" stroke-width="1.0" transform="rotate(-17.2 205.3 474.5)"/>
<ellipse cx="207.1" cy="473.5" rx="2.24" ry="2.50" fill="none" stroke="#111" stroke-width="1.0" transform="rotate(-17.2 207.1 473.5)"/>
<line x1="192.0" y1="467.0" x2="210.0" y2="465.0" stroke="#222" stroke-width="0.9"/>
<path d="M152 487 Q160 487.6 170 485 L195 479.8" fill="none" stroke="#111" stroke-width="1.1" stroke-linejoin="round" stroke-linecap="round" />
<line x1="262.0" y1="451.5" x2="273.0" y2="444.8" stroke="#111" stroke-width="5.4" stroke-linecap="round"/>
<line x1="262.0" y1="451.5" x2="273.0" y2="444.8" stroke="#fff" stroke-width="3.00" stroke-linecap="round"/>
<line x1="262.5" y1="452.4" x2="273.5" y2="445.7" stroke="#555" stroke-width="1.2"/>
<line x1="252.5" y1="456.0" x2="259.5" y2="453.2" stroke="#111" stroke-width="9.6" stroke-linecap="round"/>
<line x1="252.5" y1="456.0" x2="259.5" y2="453.2" stroke="#fff" stroke-width="6.80" stroke-linecap="round"/>
<ellipse cx="260.6" cy="452.6" rx="2.6" ry="4.6" fill="#fff" stroke="#111" stroke-width="1.22" transform="rotate(20 260.6 452.6)"/>
<line x1="247.0" y1="458.6" x2="249.5" y2="457.6" stroke="#111" stroke-width="5.0" stroke-linecap="round"/>
<line x1="247.0" y1="458.6" x2="249.5" y2="457.6" stroke="#fff" stroke-width="2.60" stroke-linecap="round"/>
<path d="M254.5 451.5 Q252.5 456 255.5 460.5" fill="none" stroke="#111" stroke-width="1.1" stroke-linejoin="round" stroke-linecap="round" />
<path d="M227.0 477.6 L246.4 477.6 L249.4 465.0" fill="none" stroke="#111" stroke-width="1.1" stroke-linejoin="round" stroke-linecap="round" />
<path d="M179 486 L184 484.2 L191.5 484.8 Q196 486.5 197.6 489 L198.8 493.5 L196.4 497.8 L191.5 499.6 L186.5 497 L184 492 Z" fill="#fff" stroke="#111" stroke-width="1.83" stroke-linejoin="round" stroke-linecap="round" />
<path d="M184 484.2 L186 488 L193 488.5 L198.8 493.5" fill="none" stroke="#111" stroke-width="1.1" stroke-linejoin="round" stroke-linecap="round" />
<path d="M186 488 L186.5 497" fill="none" stroke="#111" stroke-width="1.1" stroke-linejoin="round" stroke-linecap="round" />
<path d="M176 493 L181 489 L184 492 L185 496 L180 500.5" fill="#fff" stroke="#111" stroke-width="1.46" stroke-linejoin="round" stroke-linecap="round" />
<path d="M166.5 496 Q168 494.5 171 494 L176 492.6 Q179.5 493.5 180.5 497 Q181 501 179 503.5 L172 507 Q169 507.6 167 506.6" fill="#fff" stroke="#111" stroke-width="1.83" stroke-linejoin="round" stroke-linecap="round" />
<ellipse cx="167.5" cy="501.5" rx="3.6" ry="5.4" fill="#fff" stroke="#111" stroke-width="1.71" transform="rotate(15 167.5 501.5)"/>
<path d="M166 500 Q168 499 169 501 Q168 503.5 166.5 503" fill="none" stroke="#111" stroke-width="1.1" stroke-linejoin="round" stroke-linecap="round" />
<circle cx="167.6" cy="504.0" r="0.7" fill="#222" stroke="#111" stroke-width="0.49"/>
<line x1="155.0" y1="502.6" x2="163.0" y2="502.6" stroke="#222" stroke-width="0.9"/>
<line x1="98.5" y1="497.4" x2="104.5" y2="500.6" stroke="#111" stroke-width="3.6" stroke-linecap="round"/>
<line x1="98.5" y1="497.4" x2="104.5" y2="500.6" stroke="#fff" stroke-width="1.80" stroke-linecap="round"/>
<line x1="105.0" y1="501.0" x2="109.5" y2="503.6" stroke="#111" stroke-width="2.0" stroke-linecap="round"/>
<line x1="105.0" y1="501.0" x2="109.5" y2="503.6" stroke="#fff" stroke-width="0.40" stroke-linecap="round"/>
<line x1="113.6" y1="507.7" x2="124.4" y2="512.5" stroke="#8a8a8a" stroke-width="3.4"/>
<ellipse cx="113.4" cy="507.6" rx="2.23" ry="2.20" fill="none" stroke="#111" stroke-width="0.9" transform="rotate(36.0 113.4 507.6)"/>
<ellipse cx="115.3" cy="508.4" rx="2.23" ry="2.20" fill="none" stroke="#111" stroke-width="0.9" transform="rotate(36.0 115.3 508.4)"/>
<ellipse cx="117.1" cy="509.3" rx="2.23" ry="2.20" fill="none" stroke="#111" stroke-width="0.9" transform="rotate(36.0 117.1 509.3)"/>
<ellipse cx="119.0" cy="510.1" rx="2.23" ry="2.20" fill="none" stroke="#111" stroke-width="0.9" transform="rotate(36.0 119.0 510.1)"/>
<ellipse cx="120.9" cy="510.9" rx="2.23" ry="2.20" fill="none" stroke="#111" stroke-width="0.9" transform="rotate(36.0 120.9 510.9)"/>
<ellipse cx="122.7" cy="511.8" rx="2.23" ry="2.20" fill="none" stroke="#111" stroke-width="0.9" transform="rotate(36.0 122.7 511.8)"/>
<ellipse cx="124.6" cy="512.6" rx="2.23" ry="2.20" fill="none" stroke="#111" stroke-width="0.9" transform="rotate(36.0 124.6 512.6)"/>
<line x1="83.0" y1="497.6" x2="97.0" y2="499.4" stroke="#222" stroke-width="0.9"/>
<line x1="94.0" y1="510.4" x2="112.0" y2="508.4" stroke="#222" stroke-width="0.9"/>
<line x1="250.5" y1="494.5" x2="257.5" y2="478.5" stroke="#111" stroke-width="4.6" stroke-linecap="round"/>
<line x1="250.5" y1="494.5" x2="257.5" y2="478.5" stroke="#fff" stroke-width="2.20" stroke-linecap="round"/>
<line x1="251.0" y1="494.7" x2="258.0" y2="478.7" stroke="#555" stroke-width="1.2"/>
<line x1="224.5" y1="518.0" x2="241.0" y2="507.0" stroke="#111" stroke-width="4.6" stroke-linecap="round"/>
<line x1="224.5" y1="518.0" x2="241.0" y2="507.0" stroke="#fff" stroke-width="2.20" stroke-linecap="round"/>
<line x1="224.8" y1="518.5" x2="241.3" y2="507.5" stroke="#555" stroke-width="1.2"/>
<line x1="242.0" y1="514.0" x2="255.0" y2="519.0" stroke="#222" stroke-width="0.9"/>
<line x1="253.0" y1="496.0" x2="260.0" y2="506.0" stroke="#222" stroke-width="0.9"/>
<line x1="276.5" y1="556.3" x2="294.5" y2="546.0" stroke="#111" stroke-width="4.8" stroke-linecap="round"/>
<line x1="276.5" y1="556.3" x2="294.5" y2="546.0" stroke="#fff" stroke-width="2.40" stroke-linecap="round"/>
<line x1="276.8" y1="556.9" x2="294.8" y2="546.6" stroke="#555" stroke-width="1.2"/>
<line x1="279.0" y1="560.0" x2="278.0" y2="565.0" stroke="#222" stroke-width="0.9"/>
<path d="M170.5 526.7 L186.5 512 Q189 510.8 191.5 513 Q193.2 515 192.7 516.8 L190 520.5 L174 532.8 L170.5 531.6 Z" fill="#fff" stroke="#111" stroke-width="1.83" stroke-linejoin="round" stroke-linecap="round" />
<path d="M173 533.4 L190.4 520.2" fill="none" stroke="#333" stroke-width="2.44" stroke-linejoin="round" stroke-linecap="round" />
<path d="M176 524.5 L178 522 L181 523 L189 516" fill="none" stroke="#111" stroke-width="1.1" stroke-linejoin="round" stroke-linecap="round" />
<ellipse cx="189.4" cy="515.6" rx="2.2" ry="3.2" fill="#fff" stroke="#111" stroke-width="1.1" transform="rotate(35 189.4 515.6)"/>
<path d="M132.4 528 Q133.5 525.5 137.3 524.2 L147 524.8 L155.8 524.2 Q158.5 525.5 160.7 528 L165.6 532.8 L166.8 537.8 L162 539 L155.8 536.5 L139.8 534 Q134.5 533 133.6 531.6 Z" fill="#fff" stroke="#111" stroke-width="1.83" stroke-linejoin="round" stroke-linecap="round" />
<path d="M160 519.3 Q163.5 521 165.6 524.2 Q168.5 528 169.3 531.6 Q169.5 534.5 168.7 536.5 Q167.5 538.5 165.6 539 L162 539 Q164 536 163.5 532 Q162 526 157 522.5" fill="#fff" stroke="#111" stroke-width="1.71" stroke-linejoin="round" stroke-linecap="round" />
<path d="M129.3 510.7 L133.6 508.2 L157 516.8 L160 519.3 L154.5 521.8 L147 518.4 L130.5 516.8 Z" fill="#fff" stroke="#111" stroke-width="1.83" stroke-linejoin="round" stroke-linecap="round" />
<line x1="131.5" y1="510.6" x2="150.0" y2="517.2" stroke="#222" stroke-width="0.9"/>
<line x1="131.9" y1="512.1" x2="151.2" y2="517.8" stroke="#222" stroke-width="0.9"/>
<line x1="132.3" y1="513.6" x2="152.4" y2="518.4" stroke="#222" stroke-width="0.9"/>
<line x1="132.7" y1="515.1" x2="153.6" y2="519.0" stroke="#222" stroke-width="0.9"/>
<path d="M147 518.4 L147.5 521 L154.5 524.3" fill="none" stroke="#111" stroke-width="1.1" stroke-linejoin="round" stroke-linecap="round" />
<path d="M154.5 521.8 L155.8 524.2" fill="none" stroke="#111" stroke-width="1.1" stroke-linejoin="round" stroke-linecap="round" />
<path d="M139 524.3 L141 521.5 L147.5 521" fill="none" stroke="#111" stroke-width="0.98" stroke-linejoin="round" stroke-linecap="round" />
<line x1="167.0" y1="539.6" x2="176.4" y2="547.0" stroke="#222" stroke-width="0.9"/>
<circle cx="372.0" cy="545.6" r="3.7" fill="#fff" stroke="#111" stroke-width="1.71"/>
<circle cx="372.0" cy="545.6" r="1.5" fill="#fff" stroke="#111" stroke-width="0.98"/>
<path d="M376 545 L378 541 L380 535" fill="none" stroke="#111" stroke-width="2.1" stroke-linecap="round" stroke-linejoin="round"/>
<path d="M376 545 L378 541 L380 535" fill="none" stroke="#fff" stroke-width="0.6" stroke-linecap="round" stroke-linejoin="round"/>
<path d="M373.5 549.5 Q377 560 385.6 566.4" fill="none" stroke="#111" stroke-width="2.1" stroke-linecap="round" stroke-linejoin="round"/>
<path d="M373.5 549.5 Q377 560 385.6 566.4" fill="none" stroke="#fff" stroke-width="0.6" stroke-linecap="round" stroke-linejoin="round"/>
<line x1="381.0" y1="541.0" x2="391.0" y2="537.0" stroke="#222" stroke-width="0.9"/>
<path d="M379.0 529.0 L363.0 538.0 L378.0 607.0 L395.0 597.0" fill="none" stroke="#222" stroke-width="0.9" stroke-dasharray="11 2.5 1.5 2.5"/>
<path d="M395.6 558.0 L398.0 557.0 L408.0 563.0 L406.0 567.0 L403.0 570.0 L407.0 590.0 L408.0 598.0 L407.0 606.0 L416.0 648.0 L413.0 659.0 L411.0 663.0 L404.0 662.0 L403.0 659.6 L408.0 658.0 L410.0 650.0 L398.0 598.0 L391.0 576.0 L395.0 568.0 L397.0 563.0 Z" fill="#fff" stroke="#111" stroke-width="1.34" stroke-linejoin="round" stroke-linecap="round" />
<path d="M397 563 L406 567" fill="none" stroke="#111" stroke-width="0.98" stroke-linejoin="round" stroke-linecap="round" />
<path d="M395 568 L400 598 L412 650" fill="none" stroke="#111" stroke-width="0.85" stroke-linejoin="round" stroke-linecap="round" />
<line x1="399.0" y1="579.5" x2="402.8" y2="597.5" stroke="#111" stroke-width="5.0" stroke-linecap="round"/>
<line x1="399.0" y1="579.5" x2="402.8" y2="597.5" stroke="#fff" stroke-width="2.80" stroke-linecap="round"/>
<path d="M404 662 L407 658" fill="none" stroke="#111" stroke-width="0.98" stroke-linejoin="round" stroke-linecap="round" />
<line x1="405.0" y1="551.0" x2="402.4" y2="559.0" stroke="#222" stroke-width="0.9"/>
<line x1="412.0" y1="585.4" x2="430.0" y2="573.6" stroke="#111" stroke-width="5.0" stroke-linecap="round"/>
<line x1="412.0" y1="585.4" x2="430.0" y2="573.6" stroke="#fff" stroke-width="2.60" stroke-linecap="round"/>
<line x1="412.6" y1="586.6" x2="430.6" y2="574.8" stroke="#444" stroke-width="1.8"/>
<line x1="412.2" y1="585.4" x2="430.0" y2="573.8" stroke="#333" stroke-width="0.7"/>
<ellipse cx="434.0" cy="571.0" rx="4.4" ry="4.0" fill="#ccc" stroke="#111" stroke-width="1.83" transform="rotate(0 434.0 571.0)"/>
<circle cx="433.4" cy="571.3" r="2.2" fill="#fff" stroke="#111" stroke-width="0.98"/>
<line x1="427.0" y1="580.0" x2="439.6" y2="587.0" stroke="#222" stroke-width="0.9"/>
<path d="M306 560 L312 550 L318 547 L330 545 L334 543.6 L354 555 L358 560 L382 682 L380 685 L368 691 L364 690 L339 678 L337 674 L329 668 Z" fill="#fff" stroke="#111" stroke-width="1.46" stroke-linejoin="round" stroke-linecap="round" />
<path d="M306 560 L311 564 L314 562 L313 552 L318 549 L343 560 L343 563 L368 687" fill="none" stroke="#111" stroke-width="1.1" stroke-linejoin="round" stroke-linecap="round" />
<path d="M324 550 L343 559" fill="none" stroke="#111" stroke-width="0.98" stroke-linejoin="round" stroke-linecap="round" />
<path d="M346 562 L371 686" fill="none" stroke="#111" stroke-width="0.98" stroke-linejoin="round" stroke-linecap="round" />
<path d="M334 543.6 L336 546 L352 555 L353 560 L347 562 L343 560" fill="none" stroke="#111" stroke-width="1.22" stroke-linejoin="round" stroke-linecap="round" />
<path d="M337 545.5 L355 556" fill="none" stroke="#111" stroke-width="0.85" stroke-linejoin="round" stroke-linecap="round" />
<path d="M337 674 L340 676 L364 688" fill="none" stroke="#333" stroke-width="2.44" stroke-linejoin="round" stroke-linecap="round" />
<ellipse cx="335.6" cy="578.0" rx="2.7" ry="3.4" fill="#fff" stroke="#111" stroke-width="1.22" transform="rotate(-15 335.6 578.0)"/>
<ellipse cx="328.0" cy="589.6" rx="2.7" ry="3.4" fill="#fff" stroke="#111" stroke-width="1.22" transform="rotate(-15 328.0 589.6)"/>
<ellipse cx="340.4" cy="600.0" rx="2.7" ry="3.4" fill="#fff" stroke="#111" stroke-width="1.22" transform="rotate(-15 340.4 600.0)"/>
<ellipse cx="332.4" cy="611.6" rx="2.7" ry="3.4" fill="#fff" stroke="#111" stroke-width="1.22" transform="rotate(-15 332.4 611.6)"/>
<ellipse cx="344.4" cy="621.6" rx="2.7" ry="3.4" fill="#fff" stroke="#111" stroke-width="1.22" transform="rotate(-15 344.4 621.6)"/>
<ellipse cx="336.4" cy="632.4" rx="2.7" ry="3.4" fill="#fff" stroke="#111" stroke-width="1.22" transform="rotate(-15 336.4 632.4)"/>
<ellipse cx="349.4" cy="644.0" rx="2.7" ry="3.4" fill="#fff" stroke="#111" stroke-width="1.22" transform="rotate(-15 349.4 644.0)"/>
<line x1="302.0" y1="596.0" x2="312.0" y2="591.0" stroke="#222" stroke-width="0.9"/>
<path d="M47 545 L55 549 L58 539.6 L82 555 L81 562 L105 581 L112 589 L106 594 L104 604 L112 652 L118 690 L117 700 L109 707 L58 673 L56 666 L59 650 L57 625 L55 606 L60 604 Q63 600 62 597 Q61 591 58 589 L53 590 Z" fill="#fff" stroke="#111" stroke-width="1.52" stroke-linejoin="round" stroke-linecap="round" />
<path d="M55 549 L56 565 L58 589" fill="none" stroke="#111" stroke-width="0.98" stroke-linejoin="round" stroke-linecap="round" />
<path d="M59 541 L60 552 L80 565 Q82 572 86 574 L100 583 L104 590 L106 594" fill="none" stroke="#111" stroke-width="1.1" stroke-linejoin="round" stroke-linecap="round" />
<path d="M62 582 Q80 588 100 592" fill="none" stroke="#111" stroke-width="0.98" stroke-linejoin="round" stroke-linecap="round" />
<path d="M55 606 Q62 606 65 600 Q67 593 62 586" fill="none" stroke="#111" stroke-width="0.98" stroke-linejoin="round" stroke-linecap="round" />
<defs><pattern id="chk" width="2.2" height="2.2" patternUnits="userSpaceOnUse" patternTransform="rotate(28)"><rect width="2.2" height="2.2" fill="#3a3a3a"/><rect x="0.3" y="0.3" width="1.55" height="1.55" fill="#cdcdcd"/></pattern></defs>
<path d="M63 582 L69 586 L94 602 L96 610 L109 688 L106 692 L68 667 L66 662 L63 614 L71 604 L70 592 Z" fill="url(#chk)" stroke="#111" stroke-width="1.46" stroke-linejoin="round" stroke-linecap="round" />
<ellipse cx="80.0" cy="640.0" rx="8" ry="7.4" fill="#eee" stroke="#111" stroke-width="1.71" transform="rotate(0 80.0 640.0)"/>
<ellipse cx="80.4" cy="640.4" rx="5.6" ry="5.2" fill="#aaa" stroke="#111" stroke-width="1.22" transform="rotate(0 80.4 640.4)"/>
<path d="M77 637 Q81 636 82 640 Q81 644 78 643" fill="none" stroke="#333" stroke-width="1.22" stroke-linejoin="round" stroke-linecap="round" />
<ellipse cx="72.0" cy="576.0" rx="4.6" ry="5.2" fill="#fff" stroke="#111" stroke-width="1.34" transform="rotate(-20 72.0 576.0)"/>
<path d="M69 573 Q73 572 75 576" fill="none" stroke="#111" stroke-width="0.85" stroke-linejoin="round" stroke-linecap="round" />
<ellipse cx="84.0" cy="675.0" rx="4.4" ry="5.2" fill="#fff" stroke="#111" stroke-width="1.34" transform="rotate(-20 84.0 675.0)"/>
<path d="M81 672 Q85 671 87 675" fill="none" stroke="#111" stroke-width="0.85" stroke-linejoin="round" stroke-linecap="round" />
<line x1="87.0" y1="696.0" x2="80.0" y2="703.0" stroke="#222" stroke-width="0.9"/>
<path d="M47.0 591.5 L53.0 589.0" fill="none" stroke="#222" stroke-width="0.9" stroke-dasharray="11 2.5 1.5 2.5"/>
<path d="M87.0 565.0 L95.0 560.0" fill="none" stroke="#222" stroke-width="0.9" stroke-dasharray="11 2.5 1.5 2.5"/>
<path d="M60.0 692.0 L80.0 678.0" fill="none" stroke="#222" stroke-width="0.9" stroke-dasharray="11 2.5 1.5 2.5"/>
<path d="M113.0 655.0 L128.0 646.0" fill="none" stroke="#222" stroke-width="0.9" stroke-dasharray="11 2.5 1.5 2.5"/>
<path d="M230 651 L228 676 L234 678.5 L239.6 719 L247 718 L239.5 678 L236.5 664 L235 651" fill="#fff" stroke="#111" stroke-width="1.71" stroke-linejoin="round" stroke-linecap="round" />
<circle cx="232.4" cy="647.0" r="3.6" fill="#fff" stroke="#111" stroke-width="1.71"/>
<path d="M236 679 L243 718" fill="none" stroke="#111" stroke-width="0.98" stroke-linejoin="round" stroke-linecap="round" />
<path d="M238 679 L245 718" fill="none" stroke="#111" stroke-width="0.98" stroke-linejoin="round" stroke-linecap="round" />
<path d="M234 655 L236 678" fill="none" stroke="#111" stroke-width="0.98" stroke-linejoin="round" stroke-linecap="round" />
<line x1="222.0" y1="704.0" x2="236.0" y2="704.0" stroke="#222" stroke-width="0.9"/>
<line x1="245.7" y1="727.2" x2="256.3" y2="781.8" stroke="#8a8a8a" stroke-width="7.0"/>
<ellipse cx="245.9" cy="728.0" rx="4.12" ry="4.50" fill="none" stroke="#1a1a1a" stroke-width="1.3" transform="rotate(91.1 245.9 728.0)"/>
<ellipse cx="246.7" cy="732.1" rx="4.12" ry="4.50" fill="none" stroke="#1a1a1a" stroke-width="1.3" transform="rotate(91.1 246.7 732.1)"/>
<ellipse cx="247.5" cy="736.2" rx="4.12" ry="4.50" fill="none" stroke="#1a1a1a" stroke-width="1.3" transform="rotate(91.1 247.5 736.2)"/>
<ellipse cx="248.2" cy="740.2" rx="4.12" ry="4.50" fill="none" stroke="#1a1a1a" stroke-width="1.3" transform="rotate(91.1 248.2 740.2)"/>
<ellipse cx="249.0" cy="744.3" rx="4.12" ry="4.50" fill="none" stroke="#1a1a1a" stroke-width="1.3" transform="rotate(91.1 249.0 744.3)"/>
<ellipse cx="249.8" cy="748.4" rx="4.12" ry="4.50" fill="none" stroke="#1a1a1a" stroke-width="1.3" transform="rotate(91.1 249.8 748.4)"/>
<ellipse cx="250.6" cy="752.5" rx="4.12" ry="4.50" fill="none" stroke="#1a1a1a" stroke-width="1.3" transform="rotate(91.1 250.6 752.5)"/>
<ellipse cx="251.4" cy="756.5" rx="4.12" ry="4.50" fill="none" stroke="#1a1a1a" stroke-width="1.3" transform="rotate(91.1 251.4 756.5)"/>
<ellipse cx="252.2" cy="760.6" rx="4.12" ry="4.50" fill="none" stroke="#1a1a1a" stroke-width="1.3" transform="rotate(91.1 252.2 760.6)"/>
<ellipse cx="253.0" cy="764.7" rx="4.12" ry="4.50" fill="none" stroke="#1a1a1a" stroke-width="1.3" transform="rotate(91.1 253.0 764.7)"/>
<ellipse cx="253.8" cy="768.8" rx="4.12" ry="4.50" fill="none" stroke="#1a1a1a" stroke-width="1.3" transform="rotate(91.1 253.8 768.8)"/>
<ellipse cx="254.5" cy="772.8" rx="4.12" ry="4.50" fill="none" stroke="#1a1a1a" stroke-width="1.3" transform="rotate(91.1 254.5 772.8)"/>
<ellipse cx="255.3" cy="776.9" rx="4.12" ry="4.50" fill="none" stroke="#1a1a1a" stroke-width="1.3" transform="rotate(91.1 255.3 776.9)"/>
<ellipse cx="256.1" cy="781.0" rx="4.12" ry="4.50" fill="none" stroke="#1a1a1a" stroke-width="1.3" transform="rotate(91.1 256.1 781.0)"/>
<line x1="239.0" y1="775.0" x2="249.0" y2="770.0" stroke="#222" stroke-width="0.9"/>
<path d="M252.4 797 L260 832 Q262 836.5 268 836 Q275 835 276.4 830 L267.6 796" fill="#fff" stroke="#111" stroke-width="1.46" stroke-linejoin="round" stroke-linecap="round" />
<ellipse cx="260.0" cy="795.2" rx="7.6" ry="4.6" fill="#fff" stroke="#111" stroke-width="1.71" transform="rotate(-5 260.0 795.2)"/>
<ellipse cx="260.4" cy="795.4" rx="3.6" ry="2.2" fill="#fff" stroke="#111" stroke-width="1.22" transform="rotate(-5 260.4 795.4)"/>
<path d="M264 800 L272 833" fill="none" stroke="#111" stroke-width="1.1" stroke-linejoin="round" stroke-linecap="round" />
<path d="M266 799 L274 832" fill="none" stroke="#111" stroke-width="1.1" stroke-linejoin="round" stroke-linecap="round" />
<circle cx="261.0" cy="823.0" r="1.0" fill="#333" stroke="#111" stroke-width="0.61"/>
<line x1="241.4" y1="799.0" x2="252.0" y2="800.0" stroke="#222" stroke-width="0.9"/>
<path d="M344 700 Q346 696 349 695 L355 694 L381 707 L385 712 L391 736 L391 744 L383 750 L378 747 L371 724 Q368 716 363 713 Q358 711 355 712 L352 715 L353 723 L345 730 L340 710 L344 706 Z" fill="#fff" stroke="#111" stroke-width="1.59" stroke-linejoin="round" stroke-linecap="round" />
<path d="M345 700 L375 715 L381 707" fill="none" stroke="#111" stroke-width="1.1" stroke-linejoin="round" stroke-linecap="round" />
<path d="M375 715 L384 748" fill="none" stroke="#111" stroke-width="1.1" stroke-linejoin="round" stroke-linecap="round" />
<path d="M377 714.5 L386 747" fill="none" stroke="#111" stroke-width="0.85" stroke-linejoin="round" stroke-linecap="round" />
<path d="M344 706 L345 712 L352 715" fill="none" stroke="#111" stroke-width="0.98" stroke-linejoin="round" stroke-linecap="round" />
<path d="M345 712 L340 710" fill="none" stroke="#111" stroke-width="0.85" stroke-linejoin="round" stroke-linecap="round" />
<line x1="391.0" y1="738.0" x2="400.6" y2="740.0" stroke="#222" stroke-width="0.9"/>
<line x1="392.0" y1="763.0" x2="400.0" y2="761.0" stroke="#222" stroke-width="0.9"/>
<path d="M357.5 750.0 Q349.5 746.0 354.0 740.5 Q358.5 737.0 363.5 741.0 L388.0 760.5 Q394.0 766.5 389.0 770.0 Q383.0 772.5 363.2 763.6 Q352.2 760.1 356.7 754.6 Q361.2 751.1 366.2 755.1 L390.7 774.6 Q396.7 780.6 391.7 784.1 Q385.7 786.6 365.9 777.7 Q354.9 774.2 359.4 768.7 Q363.9 765.2 368.9 769.2 L393.4 788.7 Q399.4 794.7 394.4 798.2 Q388.4 800.7 368.6 791.8 Q357.6 788.3 362.1 782.8 Q366.6 779.3 371.6 783.3 L396.1 802.8 Q402.1 808.8 397.1 812.3 Q391.1 814.8 371.3 805.9 Q360.3 802.4 364.8 796.9 Q369.3 793.4 374.3 797.4 L398.8 816.9 Q404.8 822.9 399.8 826.4 Q393.8 828.9 374.0 820.0 Q363.0 816.5 367.5 811.0 Q372.0 807.5 377.0 811.5 L401.5 831.0 Q407.5 837.0 402.5 840.5 Q396.5 843.0 376.7 834.1 Q365.7 830.6 370.2 825.1 Q374.7 821.6 379.7 825.6 L404.2 845.1 Q410.2 851.1 405.2 854.6 Q399.2 857.1 379.4 848.2" fill="none" stroke="#111" stroke-width="2.4" stroke-linecap="round" stroke-linejoin="round"/>
<path d="M357.5 750.0 Q349.5 746.0 354.0 740.5 Q358.5 737.0 363.5 741.0 L388.0 760.5 Q394.0 766.5 389.0 770.0 Q383.0 772.5 363.2 763.6 Q352.2 760.1 356.7 754.6 Q361.2 751.1 366.2 755.1 L390.7 774.6 Q396.7 780.6 391.7 784.1 Q385.7 786.6 365.9 777.7 Q354.9 774.2 359.4 768.7 Q363.9 765.2 368.9 769.2 L393.4 788.7 Q399.4 794.7 394.4 798.2 Q388.4 800.7 368.6 791.8 Q357.6 788.3 362.1 782.8 Q366.6 779.3 371.6 783.3 L396.1 802.8 Q402.1 808.8 397.1 812.3 Q391.1 814.8 371.3 805.9 Q360.3 802.4 364.8 796.9 Q369.3 793.4 374.3 797.4 L398.8 816.9 Q404.8 822.9 399.8 826.4 Q393.8 828.9 374.0 820.0 Q363.0 816.5 367.5 811.0 Q372.0 807.5 377.0 811.5 L401.5 831.0 Q407.5 837.0 402.5 840.5 Q396.5 843.0 376.7 834.1 Q365.7 830.6 370.2 825.1 Q374.7 821.6 379.7 825.6 L404.2 845.1 Q410.2 851.1 405.2 854.6 Q399.2 857.1 379.4 848.2" fill="none" stroke="#fff" stroke-width="1.0" stroke-linecap="round" stroke-linejoin="round"/>
<path d="M367 848 L372 842 L377 841 L421 860 L419 865 L409 871 L403 871 L368 851 Z" fill="none" stroke="#111" stroke-width="1.71" stroke-linejoin="round" stroke-linecap="round" />
<path d="M370 848.5 L374 844.5 L378 844 L416 860.5 L415 863 L408 867.5 L404 867.5 L371 850 Z" fill="none" stroke="#111" stroke-width="1.1" stroke-linejoin="round" stroke-linecap="round" />
<path d="M372 842 L373 833 L376 832 L378 841" fill="#fff" stroke="#111" stroke-width="1.34" stroke-linejoin="round" stroke-linecap="round" />
<path d="M380 848 L384 846 L408 868" fill="none" stroke="#111" stroke-width="1.22" stroke-linejoin="round" stroke-linecap="round" />
<circle cx="382.5" cy="849.5" r="1.4" fill="#fff" stroke="#111" stroke-width="0.98"/>
<line x1="357.0" y1="852.6" x2="367.0" y2="849.0" stroke="#222" stroke-width="0.9"/>
<path d="M364 878 L368 873 L378 868 L387 867 L430 888 L431 895 L409 910 L404 909 L366 888 L364 885 Z" fill="#fff" stroke="#111" stroke-width="1.59" stroke-linejoin="round" stroke-linecap="round" />
<path d="M364 878 Q367 880 370 879 Q376 874 382 870 L387 867" fill="none" stroke="#111" stroke-width="0.98" stroke-linejoin="round" stroke-linecap="round" />
<path d="M378 882 Q378 878 381 876 L389 874 L425 891 L424 895 L412 902 Z" fill="#fff" stroke="#111" stroke-width="1.46" stroke-linejoin="round" stroke-linecap="round" />
<path d="M386 876 L423 893.5" fill="none" stroke="#333" stroke-width="2.44" stroke-linejoin="round" stroke-linecap="round" />
<path d="M384 878.5 L420 896" fill="none" stroke="#111" stroke-width="0.85" stroke-linejoin="round" stroke-linecap="round" />
<path d="M366 884 L405 905.5 L410 904 L431 891" fill="none" stroke="#111" stroke-width="0.98" stroke-linejoin="round" stroke-linecap="round" />
<path d="M405 905.5 L405 909" fill="none" stroke="#111" stroke-width="0.85" stroke-linejoin="round" stroke-linecap="round" />
<ellipse cx="389.0" cy="882.0" rx="3.0" ry="2.0" fill="#fff" stroke="#111" stroke-width="1.22" transform="rotate(15 389.0 882.0)"/>
<ellipse cx="395.0" cy="888.6" rx="3.0" ry="2.0" fill="#fff" stroke="#111" stroke-width="1.22" transform="rotate(15 395.0 888.6)"/>
<ellipse cx="412.6" cy="894.0" rx="3.0" ry="2.0" fill="#fff" stroke="#111" stroke-width="1.22" transform="rotate(15 412.6 894.0)"/>
<line x1="352.0" y1="870.6" x2="366.0" y2="874.6" stroke="#222" stroke-width="0.9"/>
<g opacity="0.999">
<text transform="translate(306.8 91.6) scale(0.94 1)" fill="#ff0000" font-size="15" font-weight="bold" text-anchor="middle">8</text>
<text transform="translate(294.5 112.6) scale(0.94 1)" fill="#ff0000" font-size="15" font-weight="bold" text-anchor="middle">2</text>
<text transform="translate(158.5 117.4) scale(0.94 1)" fill="#ff0000" font-size="15" font-weight="bold" text-anchor="middle">54</text>
<text transform="translate(155.5 135.0) scale(0.94 1)" fill="#ff0000" font-size="15" font-weight="bold" text-anchor="middle">55</text>
<text transform="translate(346.6 126.0) scale(0.94 1)" fill="#ff0000" font-size="15" font-weight="bold" text-anchor="middle">10</text>
<text transform="translate(351.5 153.0) scale(0.94 1)" fill="#ff0000" font-size="15" font-weight="bold" text-anchor="middle">9</text>
<text transform="translate(200.5 158.0) scale(0.94 1)" fill="#ff0000" font-size="15" font-weight="bold" text-anchor="middle">3</text>
<text transform="translate(276.8 155.4) scale(0.94 1)" fill="#ff0000" font-size="15" font-weight="bold" text-anchor="middle">90</text>
<text transform="translate(300.2 172.6) scale(0.94 1)" fill="#ff0000" font-size="15" font-weight="bold" text-anchor="middle">52</text>
<text transform="translate(268.8 182.6) scale(0.94 1)" fill="#ff0000" font-size="15" font-weight="bold" text-anchor="middle">53</text>
<text transform="translate(290.0 196.0) scale(0.94 1)" fill="#ff0000" font-size="15" font-weight="bold" text-anchor="middle">4</text>
<text transform="translate(73.0 238.0) scale(0.94 1)" fill="#ff0000" font-size="15" font-weight="bold" text-anchor="middle">68</text>
<text transform="translate(70.3 262.0) scale(0.94 1)" fill="#ff0000" font-size="15" font-weight="bold" text-anchor="middle">66</text>
<text transform="translate(77.2 278.6) scale(0.94 1)" fill="#ff0000" font-size="15" font-weight="bold" text-anchor="middle">67</text>
<text transform="translate(151.2 251.0) scale(0.94 1)" fill="#ff0000" font-size="15" font-weight="bold" text-anchor="middle">1</text>
<text transform="translate(158.8 264.6) scale(0.94 1)" fill="#ff0000" font-size="15" font-weight="bold" text-anchor="middle">70</text>
<text transform="translate(150.0 279.6) scale(0.94 1)" fill="#ff0000" font-size="15" font-weight="bold" text-anchor="middle">69</text>
<text transform="translate(287.2 266.4) scale(0.94 1)" fill="#ff0000" font-size="15" font-weight="bold" text-anchor="middle">37</text>
<text transform="translate(278.0 281.0) scale(0.94 1)" fill="#ff0000" font-size="15" font-weight="bold" text-anchor="middle">39</text>
<text transform="translate(278.8 295.6) scale(0.94 1)" fill="#ff0000" font-size="15" font-weight="bold" text-anchor="middle">38</text>
<text transform="translate(388.0 245.0) scale(0.94 1)" fill="#ff0000" font-size="15" font-weight="bold" text-anchor="middle">14</text>
<text transform="translate(358.0 275.0) scale(0.94 1)" fill="#ff0000" font-size="15" font-weight="bold" text-anchor="middle">12</text>
<text transform="translate(491.7 258.0) scale(0.94 1)" fill="#ff0000" font-size="15" font-weight="bold" text-anchor="middle">43</text>
<text transform="translate(597.8 239.0) scale(0.94 1)" fill="#ff0000" font-size="15" font-weight="bold" text-anchor="middle">44</text>
<text transform="translate(503.0 305.6) scale(0.94 1)" fill="#ff0000" font-size="15" font-weight="bold" text-anchor="middle">18</text>
<text transform="translate(503.0 325.0) scale(0.94 1)" fill="#ff0000" font-size="15" font-weight="bold" text-anchor="middle">19</text>
<text transform="translate(416.0 314.0) scale(0.94 1)" fill="#ff0000" font-size="15" font-weight="bold" text-anchor="middle">59</text>
<text transform="translate(413.0 332.0) scale(0.94 1)" fill="#ff0000" font-size="15" font-weight="bold" text-anchor="middle">36</text>
<text transform="translate(360.6 337.6) scale(0.94 1)" fill="#ff0000" font-size="15" font-weight="bold" text-anchor="middle">58</text>
<text transform="translate(303.0 342.4) scale(0.94 1)" fill="#ff0000" font-size="15" font-weight="bold" text-anchor="middle">35</text>
<text transform="translate(126.8 337.0) scale(0.94 1)" fill="#ff0000" font-size="15" font-weight="bold" text-anchor="middle">71</text>
<text transform="translate(436.0 363.0) scale(0.94 1)" fill="#ff0000" font-size="15" font-weight="bold" text-anchor="middle">28</text>
<text transform="translate(435.2 381.0) scale(0.94 1)" fill="#ff0000" font-size="15" font-weight="bold" text-anchor="middle">65</text>
<text transform="translate(423.3 396.6) scale(0.94 1)" fill="#ff0000" font-size="15" font-weight="bold" text-anchor="middle">56</text>
<text transform="translate(532.2 349.6) scale(0.94 1)" fill="#ff0000" font-size="15" font-weight="bold" text-anchor="middle">43</text>
<text transform="translate(619.5 336.4) scale(0.94 1)" fill="#ff0000" font-size="15" font-weight="bold" text-anchor="middle">44</text>
<text transform="translate(527.4 389.0) scale(0.94 1)" fill="#ff0000" font-size="15" font-weight="bold" text-anchor="middle">57</text>
<text transform="translate(513.0 407.0) scale(0.94 1)" fill="#ff0000" font-size="15" font-weight="bold" text-anchor="middle">30</text>
<text transform="translate(154.8 397.4) scale(0.94 1)" fill="#ff0000" font-size="15" font-weight="bold" text-anchor="middle">17</text>
<text transform="translate(132.3 411.0) scale(0.94 1)" fill="#ff0000" font-size="15" font-weight="bold" text-anchor="middle">16</text>
<text transform="translate(134.5 427.6) scale(0.94 1)" fill="#ff0000" font-size="15" font-weight="bold" text-anchor="middle">15</text>
<text transform="translate(184.2 470.0) scale(0.94 1)" fill="#ff0000" font-size="15" font-weight="bold" text-anchor="middle">60</text>
<text transform="translate(236.3 474.6) scale(0.94 1)" fill="#ff0000" font-size="15" font-weight="bold" text-anchor="middle">29</text>
<text transform="translate(144.2 490.0) scale(0.94 1)" fill="#ff0000" font-size="15" font-weight="bold" text-anchor="middle">23</text>
<text transform="translate(147.2 506.0) scale(0.94 1)" fill="#ff0000" font-size="15" font-weight="bold" text-anchor="middle">20</text>
<text transform="translate(74.8 499.0) scale(0.94 1)" fill="#ff0000" font-size="15" font-weight="bold" text-anchor="middle">25</text>
<text transform="translate(85.7 516.0) scale(0.94 1)" fill="#ff0000" font-size="15" font-weight="bold" text-anchor="middle">26</text>
<text transform="translate(262.8 520.0) scale(0.94 1)" fill="#ff0000" font-size="15" font-weight="bold" text-anchor="middle">36</text>
<text transform="translate(179.3 558.6) scale(0.94 1)" fill="#ff0000" font-size="15" font-weight="bold" text-anchor="middle">24</text>
<text transform="translate(121.0 568.6) scale(0.94 1)" fill="#ff0000" font-size="15" font-weight="bold" text-anchor="middle">43</text>
<text transform="translate(278.8 575.4) scale(0.94 1)" fill="#ff0000" font-size="15" font-weight="bold" text-anchor="middle">34</text>
<text transform="translate(396.8 536.6) scale(0.94 1)" fill="#ff0000" font-size="15" font-weight="bold" text-anchor="middle">51</text>
<text transform="translate(409.3 550.0) scale(0.94 1)" fill="#ff0000" font-size="15" font-weight="bold" text-anchor="middle">62</text>
<text transform="translate(447.5 596.0) scale(0.94 1)" fill="#ff0000" font-size="15" font-weight="bold" text-anchor="middle">61</text>
<text transform="translate(38.3 622.0) scale(0.94 1)" fill="#ff0000" font-size="15" font-weight="bold" text-anchor="middle">44</text>
<text transform="translate(151.2 660.0) scale(0.94 1)" fill="#ff0000" font-size="15" font-weight="bold" text-anchor="middle">43</text>
<text transform="translate(41.2 721.0) scale(0.94 1)" fill="#ff0000" font-size="15" font-weight="bold" text-anchor="middle">44</text>
<text transform="translate(214.6 707.4) scale(0.94 1)" fill="#ff0000" font-size="15" font-weight="bold" text-anchor="middle">31</text>
<text transform="translate(231.7 778.0) scale(0.94 1)" fill="#ff0000" font-size="15" font-weight="bold" text-anchor="middle">32</text>
<text transform="translate(234.2 803.4) scale(0.94 1)" fill="#ff0000" font-size="15" font-weight="bold" text-anchor="middle">33</text>
<text transform="translate(597.7 273.0) scale(0.94 1)" fill="#000" font-size="15" font-weight="bold" text-anchor="middle">97</text>
<text transform="translate(163.7 347.4) scale(0.94 1)" fill="#000" font-size="15" font-weight="bold" text-anchor="middle">93</text>
<text transform="translate(294.0 601.0) scale(0.94 1)" fill="#000" font-size="15" font-weight="bold" text-anchor="middle">99</text>
<text transform="translate(78.3 712.0) scale(0.94 1)" fill="#000" font-size="15" font-weight="bold" text-anchor="middle">98</text>
<text transform="translate(411.6 742.0) scale(0.94 1)" fill="#000" font-size="15" font-weight="bold" text-anchor="middle">100</text>
<text transform="translate(411.0 764.6) scale(0.94 1)" fill="#000" font-size="15" font-weight="bold" text-anchor="middle">101</text>
<text transform="translate(346.0 857.0) scale(0.94 1)" fill="#000" font-size="15" font-weight="bold" text-anchor="middle">102</text>
<text transform="translate(340.4 877.6) scale(0.94 1)" fill="#000" font-size="15" font-weight="bold" text-anchor="middle">103</text>
<text x="14.2" y="904.6" fill="#111" stroke="#111" stroke-width="0.35" font-size="11" font-weight="normal">© Beretta, used by permission</text>
</g>
</svg>
</body></html>
